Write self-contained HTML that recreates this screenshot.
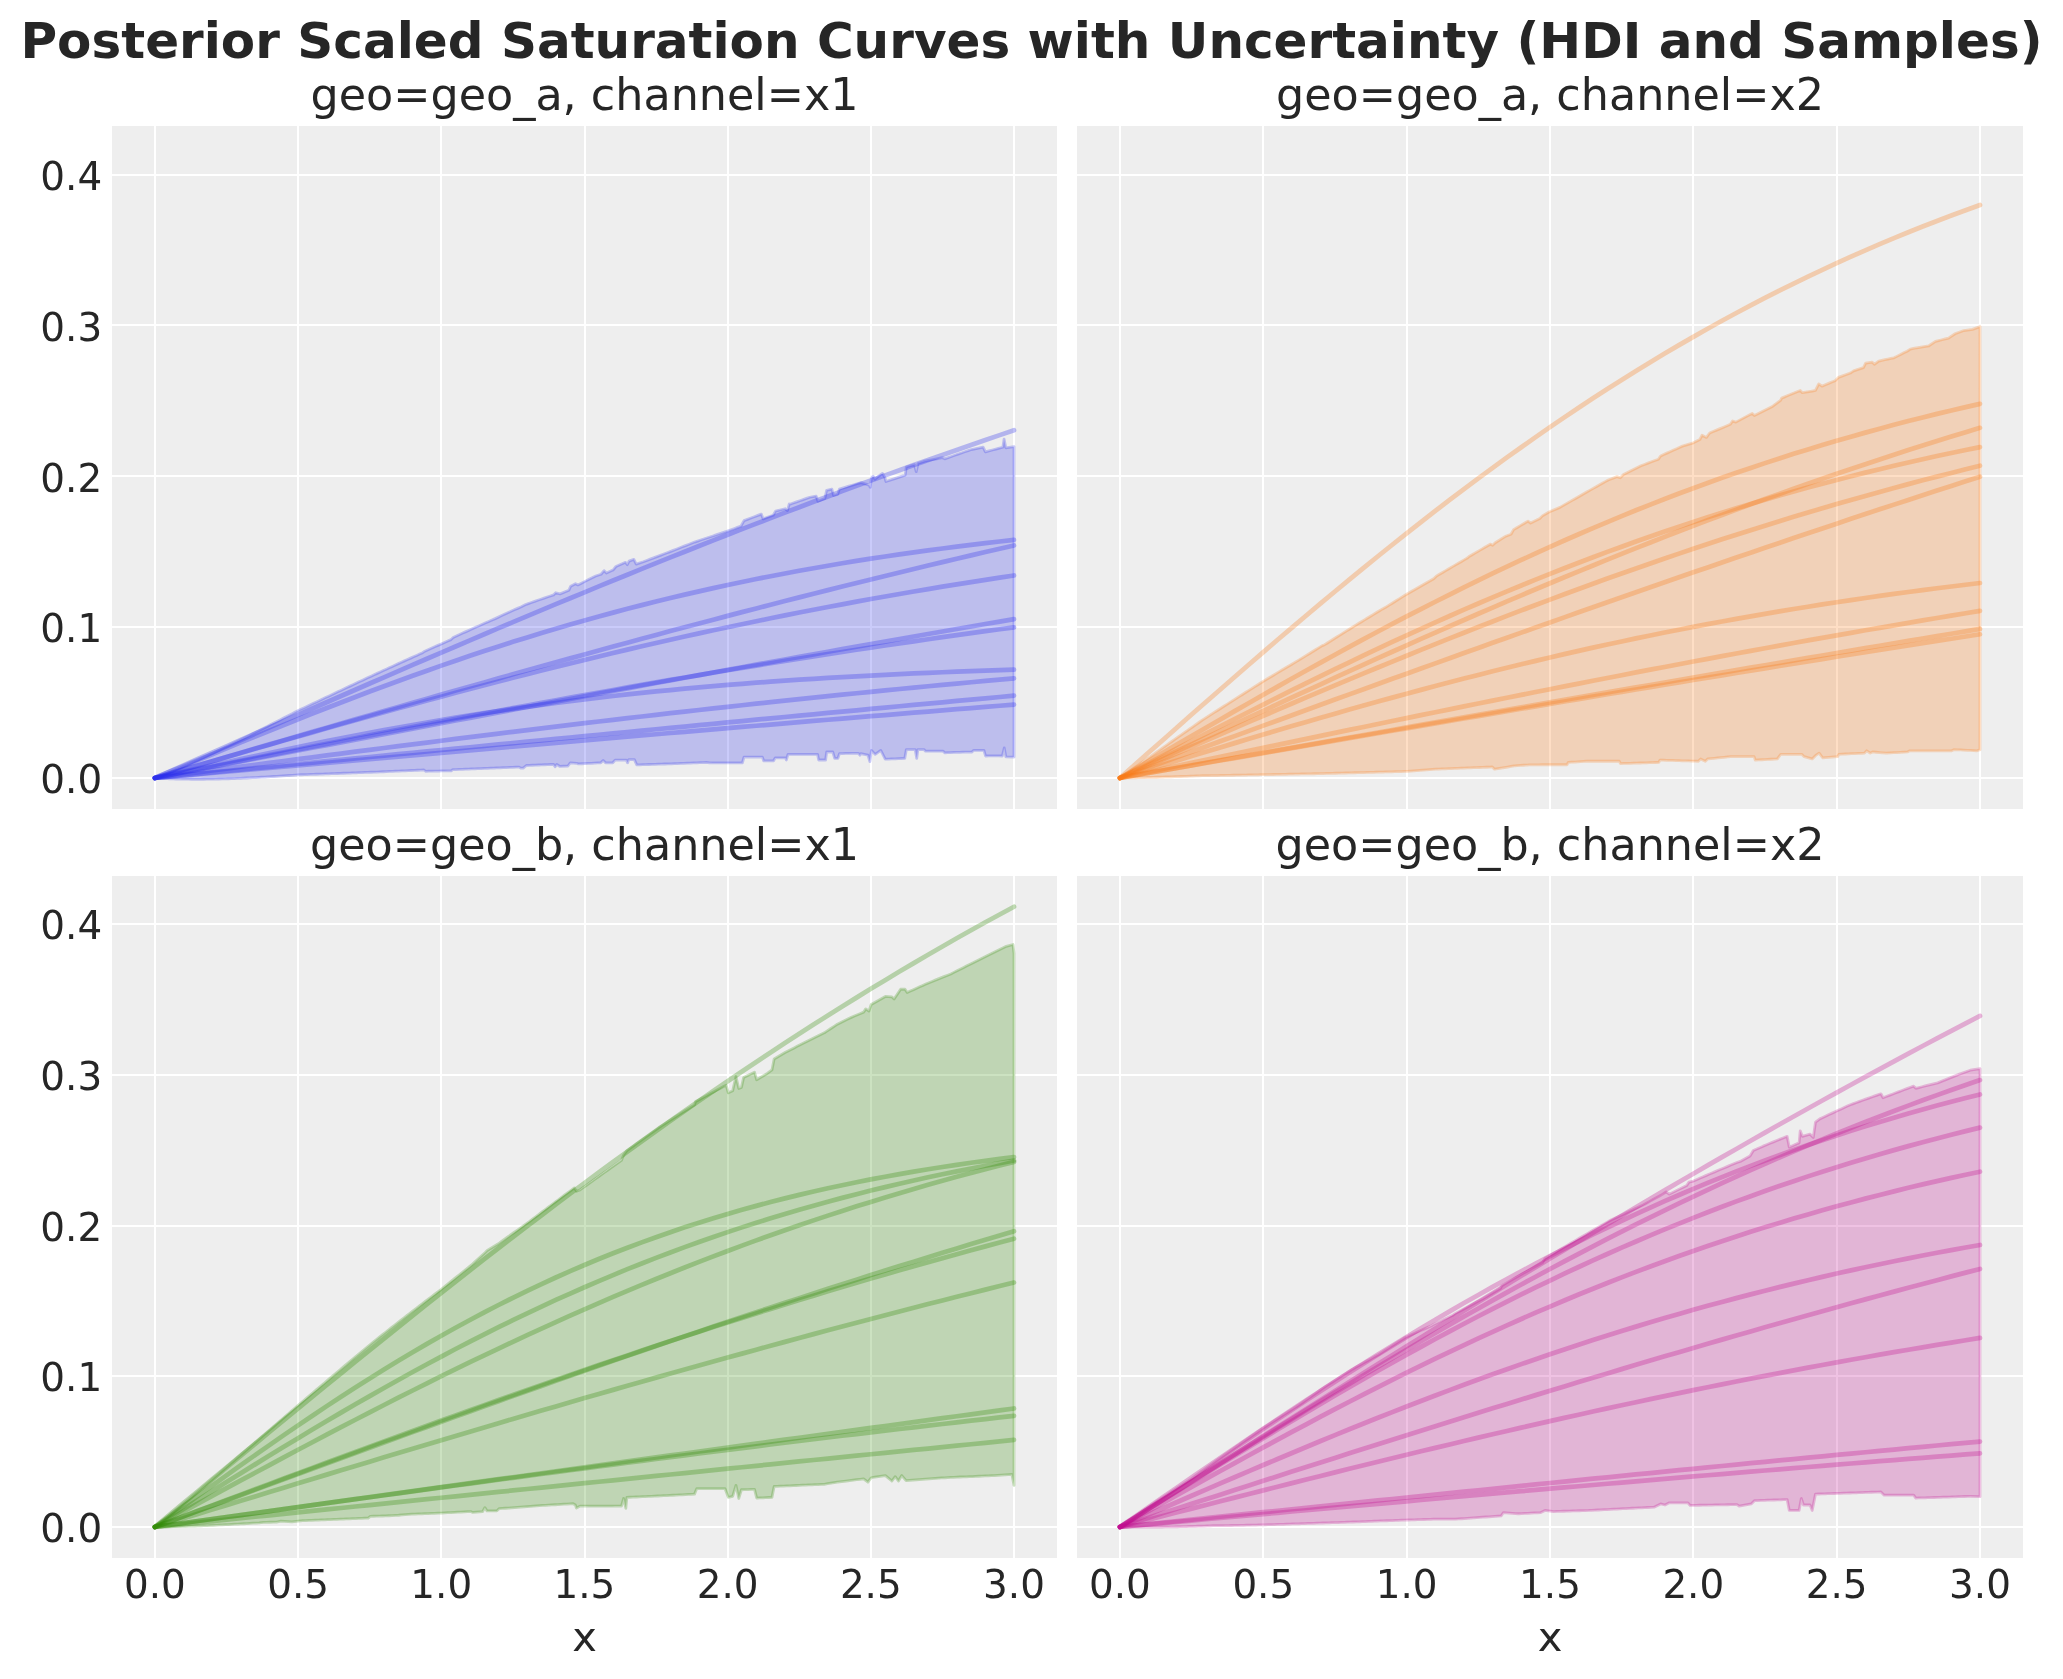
<!DOCTYPE html><html><head><meta charset="utf-8"><title>Posterior Scaled Saturation Curves</title>
<style>html,body{margin:0;padding:0;background:#fff;overflow:hidden}svg{display:block;will-change:transform}text{font-family:'DejaVu Sans', 'Liberation Sans', sans-serif;fill:#262626}</style></head><body>
<svg width="2063" height="1679" viewBox="0 0 2063 1679">
<rect width="2063" height="1679" fill="#ffffff"/>
<text x="1031.5" y="58.2" text-anchor="middle" style="font-size:50px;font-weight:bold">Posterior Scaled Saturation Curves with Uncertainty (HDI and Samples)</text>
<g>
<rect x="112" y="126" width="945" height="683" fill="#eeeeee"/>
<rect x="154" y="126" width="2" height="683" fill="#fff"/>
<rect x="297" y="126" width="2" height="683" fill="#fff"/>
<rect x="440" y="126" width="2" height="683" fill="#fff"/>
<rect x="584" y="126" width="2" height="683" fill="#fff"/>
<rect x="727" y="126" width="2" height="683" fill="#fff"/>
<rect x="870" y="126" width="2" height="683" fill="#fff"/>
<rect x="1013" y="126" width="2" height="683" fill="#fff"/>
<rect x="112" y="777" width="945" height="2" fill="#fff"/>
<rect x="112" y="626" width="945" height="2" fill="#fff"/>
<rect x="112" y="475" width="945" height="2" fill="#fff"/>
<rect x="112" y="324" width="945" height="2" fill="#fff"/>
<rect x="112" y="174" width="945" height="2" fill="#fff"/>
<path d="M154.9,778 L157.95,776.83 L161,775.64 L164.05,774.44 L167.11,773.22 L170.16,771.98 L173.21,770.72 L176.26,769.45 L179.31,768.17 L182.36,766.87 L185.42,765.55 L188.47,764.22 L191.52,762.88 L194.57,761.52 L197.62,760.15 L200.67,758.77 L203.73,757.38 L206.78,755.98 L209.83,754.57 L212.88,753.14 L215.93,751.71 L218.98,750.26 L222.04,748.81 L225.09,747.35 L228.14,745.88 L231.19,744.4 L234.24,742.91 L237.29,741.42 L240.35,739.92 L243.4,738.41 L246.45,736.9 L249.5,735.38 L252.55,733.86 L255.6,732.33 L258.66,730.79 L261.71,729.25 L264.76,727.71 L267.81,726.16 L270.86,724.61 L273.91,723.05 L276.97,721.49 L280.02,719.93 L283.07,718.36 L286.12,716.8 L289.17,715.23 L292.22,713.66 L295.28,712.08 L298.33,710.51 L301.36,709.07 L304.39,707.64 L307.43,706.2 L310.46,704.77 L313.49,703.33 L316.52,701.89 L319.56,700.45 L322.59,699.02 L325.62,697.58 L328.65,696.14 L331.69,694.71 L334.72,693.27 L337.75,691.84 L340.78,690.41 L343.82,688.98 L346.85,687.55 L349.88,686.12 L352.91,684.69 L355.95,683.27 L358.98,681.85 L362.01,680.43 L365.04,679.01 L368.08,677.6 L371.11,676.19 L374.14,674.78 L377.17,673.37 L380.21,671.97 L383.24,670.57 L386.27,669.18 L389.3,667.78 L392.34,666.39 L395.37,665.01 L398.4,663.62 L401.43,662.25 L404.47,660.87 L407.5,659.5 L410.53,658.13 L413.56,656.77 L416.6,655.41 L419.63,654.06 L422.66,652.7 L424.84,651.18 L428.11,649.71 L431.39,648.26 L434.66,646.8 L437.93,645.36 L441.2,643.91 L444.47,642.48 L447.75,641.04 L451.02,639.62 L453.2,637.44 L456.39,635.98 L459.58,634.53 L462.76,633.08 L465.95,631.64 L469.14,630.2 L472.33,628.77 L475.52,627.34 L478.7,625.92 L481.89,624.51 L485.08,623.1 L488.27,621.69 L491.46,620.29 L494.64,618.89 L497.92,617.38 L501.19,615.86 L504.46,614.36 L507.73,612.85 L511,611.36 L514.28,609.86 L517.55,608.38 L520.82,606.9 L525.18,604.72 L528.33,603.61 L531.48,602.5 L534.63,601.4 L537.78,600.31 L540.94,599.22 L544.09,598.13 L547.24,597.05 L550.39,595.97 L553.54,594.9 L555.72,592.72 L560,593.9 L568.93,590.32 L570.72,586.15 L575.48,583.77 L577.87,584.96 L581.44,583.17 L585.01,581.37 L588.59,579.59 L592.16,577.81 L595.73,576.03 L601.09,574.24 L604.07,570.67 L606.45,573.05 L613,570.07 L615.98,566.5 L625.51,562.33 L627.3,564.71 L629.08,561.14 L633.85,559.35 L636.23,564.12 L643.37,561.74 L646.78,560.45 L650.18,559.17 L653.58,557.89 L656.99,556.61 L660.39,555.34 L663.79,554.07 L667.2,552.8 L670.24,551.6 L673.28,550.41 L676.33,549.21 L679.37,548.02 L682.42,546.83 L685.46,545.64 L688.5,544.45 L691.55,543.27 L694.59,542.08 L697.65,541.06 L700.72,540.03 L703.78,539.01 L706.84,537.99 L709.9,536.97 L712.97,535.95 L716.03,534.94 L726.75,531.36 L730.32,530.02 L733.9,528.68 L737.47,527.34 L741.04,526 L744.02,520.65 L747.47,519.33 L750.93,518.02 L754.38,516.71 L757.84,515.4 L761.29,514.09 L763.08,518.86 L773.2,515.29 L775.58,511.12 L785.11,508.73 L787.49,510.52 L789.28,503.97 L790,504.23 L793.3,503.06 L796.59,501.89 L799.89,500.73 L803.18,499.57 L806.48,498.41 L809.78,497.25 L816.18,496.09 L817.92,501.32 L824.9,498.41 L826.65,490.27 L831.88,489.11 L833.63,495.51 L837.7,494.34 L839.44,489.11 L842.64,488.13 L845.84,487.15 L849.04,486.18 L852.24,485.22 L855.44,484.25 L858.64,483.29 L860.96,482.71 L869.11,485.04 L870.27,487.36 L871.43,478.06 L873.18,476.31 L874.92,479.22 L880.74,474.57 L882.49,473.4 L884.81,477.47 L885.98,481.55 L894.7,478.64 L905.17,475.15 L906.34,467 L914.48,464.68 L916.22,471.66 L917.97,463.51 L924.95,461.19 L928.44,460.47 L931.93,459.76 L935.42,459.06 L938.91,458.38 L942.4,457.7 L944.73,458.86 L948.07,457.66 L951.42,456.47 L954.76,455.28 L958.1,454.11 L961.45,452.96 L964.79,451.81 L968.14,450.68 L971.48,449.55 L983.12,447.23 L985.44,451.88 L988.93,450.92 L992.42,449.97 L995.91,449.04 L999.4,448.12 L1002.89,447.23 L1004.06,439.08 L1005.8,447.81 L1014.01,446.65 L1014.01,757.11 L1005.85,756.79 L1004.25,747.99 L1002.33,755.99 L998.97,755.96 L995.61,755.95 L992.25,755.95 L988.89,755.96 L985.53,755.99 L983.93,750.39 L973.53,750.39 L971.93,751.99 L968.91,752.05 L965.89,752.11 L962.87,752.19 L959.85,752.27 L956.83,752.36 L953.81,752.46 L950.78,752.56 L947.76,752.67 L944.74,752.79 L943.14,751.19 L939.62,751.18 L936.1,751.17 L932.58,751.17 L929.06,751.18 L925.55,751.19 L923.95,749.59 L917.87,749.59 L916.75,758.39 L915.15,749.59 L906.35,749.59 L904.75,758.39 L901.5,758.51 L898.25,758.64 L894.99,758.77 L891.74,758.91 L888.49,759.05 L885.24,759.19 L880.76,750.39 L875.16,754.39 L871.48,750.39 L869.88,761.59 L867.96,755.19 L860.76,753.59 L859.96,755.19 L858.36,753.27 L855.22,753.32 L852.07,753.37 L848.92,753.43 L845.78,753.48 L842.63,753.54 L839.49,753.59 L837.89,758.39 L834.69,758.39 L832.77,751.99 L826.69,751.99 L825.57,759.99 L818.69,759.99 L817.57,754.39 L814.28,754.39 L811,754.39 L807.71,754.4 L804.42,754.4 L801.13,754.4 L797.84,754.4 L794.55,754.4 L791.27,754.39 L787.98,754.39 L786.38,759.99 L785.58,757.91 L775.18,757.91 L773.58,760.79 L763.66,760.79 L762.38,757.11 L759.32,757.11 L756.25,757.12 L753.19,757.12 L750.12,757.12 L747.06,757.11 L743.99,757.11 L742.39,762.87 L739.11,762.88 L735.83,762.88 L732.55,762.88 L729.27,762.89 L725.99,762.89 L722.71,762.89 L719.44,762.88 L716.16,762.88 L712.88,762.88 L709.6,762.87 L706.32,762.47 L703.12,762.6 L699.92,762.72 L696.72,762.85 L693.52,762.97 L690.32,763.09 L687.13,763.21 L683.93,763.33 L680.73,763.45 L677.53,763.56 L674.33,763.68 L671.13,763.8 L667.93,763.91 L664.73,764.01 L661.53,764.11 L658.33,764.2 L655.13,764.3 L651.93,764.39 L648.89,764.49 L645.86,764.58 L642.82,764.68 L639.78,764.78 L636.74,764.87 L634.34,759.59 L628.74,759.59 L627.62,762.79 L626.34,760.07 L615.14,760.07 L612.74,762.79 L605.55,762.79 L603.15,760.39 L600.75,762.79 L597.55,762.95 L594.35,763.11 L591.15,763.27 L587.95,763.43 L584.75,763.59 L581.55,763.75 L578.35,763.91 L576.75,763.27 L570.35,762.79 L567.95,765.99 L559.96,766.47 L556.76,764.39 L555.16,766.79 L553.56,764.39 L550.54,764.51 L547.51,764.63 L544.49,764.75 L541.47,764.88 L538.45,765 L535.43,765.13 L532.41,765.25 L529.39,765.38 L526.36,765.51 L523.17,768.07 L520.77,768.07 L519.17,767.11 L515.97,767.23 L512.77,767.34 L509.57,767.46 L506.37,767.58 L503.17,767.7 L499.97,767.82 L496.77,767.94 L493.57,768.07 L490.43,768.18 L487.3,768.3 L484.16,768.41 L481.02,768.53 L477.88,768.65 L474.75,768.77 L471.61,768.89 L468.47,769.02 L465.33,769.15 L462.2,769.27 L459.06,769.4 L455.92,769.54 L452.78,769.67 L451.18,770.79 L447.98,770.84 L444.78,770.9 L441.59,770.96 L438.39,771.02 L435.19,771.08 L431.99,771.14 L428.79,771.2 L425.59,771.27 L423.99,769.99 L420.85,770.12 L417.71,770.25 L414.56,770.38 L411.42,770.51 L408.28,770.64 L405.14,770.78 L401.99,770.92 L398.85,771.06 L395.71,771.19 L392.57,771.34 L389.43,771.48 L386.28,771.62 L383.14,771.76 L380,771.91 L376.98,772.02 L373.95,772.13 L370.93,772.24 L367.9,772.35 L364.88,772.47 L361.85,772.58 L358.83,772.69 L355.8,772.81 L352.78,772.92 L349.75,773.04 L346.73,773.15 L343.7,773.26 L340.68,773.38 L337.65,773.49 L334.63,773.6 L331.6,773.71 L328.58,773.82 L325.55,773.93 L322.53,774.04 L319.5,774.15 L316.48,774.26 L313.45,774.36 L310.43,774.46 L307.4,774.57 L304.38,774.67 L301.35,774.76 L298.33,774.86 L295.28,775.07 L292.22,775.29 L289.17,775.5 L286.12,775.7 L283.07,775.91 L280.02,776.11 L276.97,776.3 L273.91,776.5 L270.86,776.68 L267.81,776.87 L264.76,777.05 L261.71,777.22 L258.66,777.39 L255.6,777.56 L252.55,777.71 L249.5,777.87 L246.45,778.01 L243.4,778.15 L240.35,778.29 L237.29,778.41 L234.24,778.53 L231.19,778.64 L228.14,778.75 L225.09,778.84 L222.04,778.93 L218.98,779.01 L215.93,779.08 L212.88,779.14 L209.83,779.19 L206.78,779.23 L203.73,779.25 L200.67,779.27 L197.62,779.28 L194.57,779.28 L191.52,779.26 L188.47,779.23 L185.42,779.19 L182.36,779.14 L179.31,779.07 L176.26,778.99 L173.21,778.89 L170.16,778.78 L167.11,778.66 L164.05,778.52 L161,778.36 L157.95,778.19 L154.9,778Z" fill="#2a2eec" fill-opacity="0.25" stroke="#2a2eec" stroke-opacity="0.25" stroke-width="2.78" stroke-linejoin="round"/>
<path d="M154.9,778 L169.22,771.66 L183.54,765.33 L197.86,759 L212.17,752.67 L226.49,746.34 L240.81,740.02 L255.13,733.7 L269.45,727.39 L283.77,721.09 L298.09,714.8 L312.4,708.52 L326.72,702.25 L341.04,695.99 L355.36,689.75 L369.68,683.52 L384,677.3 L398.31,671.1 L412.63,664.91 L426.95,658.75 L441.27,652.6 L455.59,646.47 L469.91,640.36 L484.23,634.27 L498.54,628.2 L512.86,622.16 L527.18,616.14 L541.5,610.14 L555.82,604.17 L570.14,598.23 L584.46,592.31 L598.77,586.42 L613.09,580.55 L627.41,574.72 L641.73,568.92 L656.05,563.14 L670.37,557.4 L684.68,551.69 L699,546.01 L713.32,540.36 L727.64,534.75 L741.96,529.17 L756.28,523.63 L770.6,518.12 L784.91,512.65 L799.23,507.21 L813.55,501.81 L827.87,496.45 L842.19,491.12 L856.51,485.83 L870.82,480.59 L885.14,475.38 L899.46,470.21 L913.78,465.07 L928.1,459.98 L942.42,454.93 L956.74,449.92 L971.05,444.96 L985.37,440.03 L999.69,435.14 L1014.01,430.3" fill="none" stroke="#2a2eec" stroke-opacity="0.3" stroke-width="4.72" stroke-linecap="round" stroke-linejoin="round"/>
<path d="M154.9,778 L169.22,772.04 L183.54,766.09 L197.86,760.14 L212.17,754.22 L226.49,748.31 L240.81,742.43 L255.13,736.59 L269.45,730.78 L283.77,725.01 L298.09,719.29 L312.4,713.63 L326.72,708.02 L341.04,702.47 L355.36,696.98 L369.68,691.57 L384,686.22 L398.31,680.96 L412.63,675.77 L426.95,670.66 L441.27,665.63 L455.59,660.7 L469.91,655.85 L484.23,651.1 L498.54,646.43 L512.86,641.86 L527.18,637.39 L541.5,633.01 L555.82,628.73 L570.14,624.55 L584.46,620.47 L598.77,616.49 L613.09,612.6 L627.41,608.81 L641.73,605.12 L656.05,601.53 L670.37,598.04 L684.68,594.64 L699,591.34 L713.32,588.13 L727.64,585.02 L741.96,582 L756.28,579.06 L770.6,576.22 L784.91,573.47 L799.23,570.8 L813.55,568.21 L827.87,565.71 L842.19,563.29 L856.51,560.95 L870.82,558.69 L885.14,556.5 L899.46,554.39 L913.78,552.35 L928.1,550.37 L942.42,548.47 L956.74,546.64 L971.05,544.86 L985.37,543.16 L999.69,541.51 L1014.01,539.92" fill="none" stroke="#2a2eec" stroke-opacity="0.3" stroke-width="4.72" stroke-linecap="round" stroke-linejoin="round"/>
<path d="M154.9,778 L169.22,773.79 L183.54,769.58 L197.86,765.38 L212.17,761.17 L226.49,756.97 L240.81,752.77 L255.13,748.58 L269.45,744.38 L283.77,740.2 L298.09,736.02 L312.4,731.84 L326.72,727.67 L341.04,723.51 L355.36,719.36 L369.68,715.21 L384,711.08 L398.31,706.95 L412.63,702.84 L426.95,698.73 L441.27,694.64 L455.59,690.55 L469.91,686.48 L484.23,682.43 L498.54,678.38 L512.86,674.35 L527.18,670.34 L541.5,666.34 L555.82,662.35 L570.14,658.38 L584.46,654.43 L598.77,650.49 L613.09,646.57 L627.41,642.67 L641.73,638.79 L656.05,634.92 L670.37,631.08 L684.68,627.25 L699,623.45 L713.32,619.66 L727.64,615.9 L741.96,612.15 L756.28,608.43 L770.6,604.73 L784.91,601.05 L799.23,597.39 L813.55,593.76 L827.87,590.15 L842.19,586.56 L856.51,583 L870.82,579.46 L885.14,575.94 L899.46,572.45 L913.78,568.99 L928.1,565.54 L942.42,562.13 L956.74,558.74 L971.05,555.37 L985.37,552.03 L999.69,548.72 L1014.01,545.43" fill="none" stroke="#2a2eec" stroke-opacity="0.3" stroke-width="4.72" stroke-linecap="round" stroke-linejoin="round"/>
<path d="M154.9,778 L169.22,773.82 L183.54,769.64 L197.86,765.47 L212.17,761.3 L226.49,757.14 L240.81,752.99 L255.13,748.85 L269.45,744.72 L283.77,740.6 L298.09,736.5 L312.4,732.42 L326.72,728.35 L341.04,724.3 L355.36,720.28 L369.68,716.28 L384,712.3 L398.31,708.35 L412.63,704.43 L426.95,700.53 L441.27,696.67 L455.59,692.83 L469.91,689.03 L484.23,685.27 L498.54,681.53 L512.86,677.83 L527.18,674.17 L541.5,670.55 L555.82,666.97 L570.14,663.42 L584.46,659.92 L598.77,656.45 L613.09,653.03 L627.41,649.65 L641.73,646.31 L656.05,643.02 L670.37,639.77 L684.68,636.56 L699,633.4 L713.32,630.29 L727.64,627.22 L741.96,624.19 L756.28,621.21 L770.6,618.28 L784.91,615.4 L799.23,612.56 L813.55,609.76 L827.87,607.02 L842.19,604.32 L856.51,601.66 L870.82,599.05 L885.14,596.49 L899.46,593.98 L913.78,591.5 L928.1,589.08 L942.42,586.7 L956.74,584.37 L971.05,582.07 L985.37,579.83 L999.69,577.63 L1014.01,575.47" fill="none" stroke="#2a2eec" stroke-opacity="0.3" stroke-width="4.72" stroke-linecap="round" stroke-linejoin="round"/>
<path d="M154.9,778 L169.22,775.25 L183.54,772.5 L197.86,769.75 L212.17,767 L226.49,764.26 L240.81,761.51 L255.13,758.76 L269.45,756.02 L283.77,753.28 L298.09,750.54 L312.4,747.8 L326.72,745.06 L341.04,742.32 L355.36,739.59 L369.68,736.86 L384,734.13 L398.31,731.4 L412.63,728.68 L426.95,725.96 L441.27,723.25 L455.59,720.53 L469.91,717.83 L484.23,715.12 L498.54,712.42 L512.86,709.72 L527.18,707.03 L541.5,704.34 L555.82,701.66 L570.14,698.98 L584.46,696.3 L598.77,693.64 L613.09,690.97 L627.41,688.31 L641.73,685.66 L656.05,683.01 L670.37,680.37 L684.68,677.74 L699,675.11 L713.32,672.49 L727.64,669.87 L741.96,667.26 L756.28,664.66 L770.6,662.06 L784.91,659.47 L799.23,656.89 L813.55,654.32 L827.87,651.75 L842.19,649.19 L856.51,646.64 L870.82,644.1 L885.14,641.56 L899.46,639.03 L913.78,636.51 L928.1,634 L942.42,631.5 L956.74,629 L971.05,626.52 L985.37,624.04 L999.69,621.57 L1014.01,619.11" fill="none" stroke="#2a2eec" stroke-opacity="0.3" stroke-width="4.72" stroke-linecap="round" stroke-linejoin="round"/>
<path d="M154.9,778 L169.22,775.14 L183.54,772.27 L197.86,769.41 L212.17,766.55 L226.49,763.7 L240.81,760.84 L255.13,757.99 L269.45,755.15 L283.77,752.31 L298.09,749.48 L312.4,746.65 L326.72,743.83 L341.04,741.02 L355.36,738.22 L369.68,735.43 L384,732.64 L398.31,729.87 L412.63,727.11 L426.95,724.36 L441.27,721.63 L455.59,718.9 L469.91,716.19 L484.23,713.5 L498.54,710.81 L512.86,708.15 L527.18,705.5 L541.5,702.86 L555.82,700.24 L570.14,697.64 L584.46,695.06 L598.77,692.49 L613.09,689.95 L627.41,687.42 L641.73,684.91 L656.05,682.42 L670.37,679.95 L684.68,677.5 L699,675.07 L713.32,672.66 L727.64,670.27 L741.96,667.91 L756.28,665.56 L770.6,663.24 L784.91,660.94 L799.23,658.67 L813.55,656.41 L827.87,654.18 L842.19,651.97 L856.51,649.79 L870.82,647.63 L885.14,645.49 L899.46,643.38 L913.78,641.29 L928.1,639.22 L942.42,637.18 L956.74,635.16 L971.05,633.16 L985.37,631.19 L999.69,629.25 L1014.01,627.33" fill="none" stroke="#2a2eec" stroke-opacity="0.3" stroke-width="4.72" stroke-linecap="round" stroke-linejoin="round"/>
<path d="M154.9,778 L169.22,774.82 L183.54,771.65 L197.86,768.49 L212.17,765.34 L226.49,762.21 L240.81,759.11 L255.13,756.03 L269.45,752.98 L283.77,749.97 L298.09,746.99 L312.4,744.06 L326.72,741.18 L341.04,738.34 L355.36,735.55 L369.68,732.82 L384,730.15 L398.31,727.53 L412.63,724.98 L426.95,722.49 L441.27,720.06 L455.59,717.69 L469.91,715.39 L484.23,713.16 L498.54,710.99 L512.86,708.89 L527.18,706.86 L541.5,704.89 L555.82,702.99 L570.14,701.15 L584.46,699.37 L598.77,697.66 L613.09,696.02 L627.41,694.43 L641.73,692.91 L656.05,691.44 L670.37,690.03 L684.68,688.68 L699,687.38 L713.32,686.14 L727.64,684.95 L741.96,683.81 L756.28,682.71 L770.6,681.67 L784.91,680.67 L799.23,679.71 L813.55,678.8 L827.87,677.93 L842.19,677.1 L856.51,676.3 L870.82,675.54 L885.14,674.82 L899.46,674.13 L913.78,673.48 L928.1,672.85 L942.42,672.26 L956.74,671.69 L971.05,671.15 L985.37,670.64 L999.69,670.15 L1014.01,669.68" fill="none" stroke="#2a2eec" stroke-opacity="0.3" stroke-width="4.72" stroke-linecap="round" stroke-linejoin="round"/>
<path d="M154.9,778 L169.22,776.11 L183.54,774.22 L197.86,772.33 L212.17,770.44 L226.49,768.55 L240.81,766.66 L255.13,764.78 L269.45,762.9 L283.77,761.03 L298.09,759.15 L312.4,757.29 L326.72,755.42 L341.04,753.57 L355.36,751.71 L369.68,749.87 L384,748.03 L398.31,746.2 L412.63,744.37 L426.95,742.56 L441.27,740.75 L455.59,738.95 L469.91,737.16 L484.23,735.38 L498.54,733.6 L512.86,731.84 L527.18,730.09 L541.5,728.35 L555.82,726.62 L570.14,724.9 L584.46,723.19 L598.77,721.49 L613.09,719.81 L627.41,718.14 L641.73,716.48 L656.05,714.83 L670.37,713.2 L684.68,711.58 L699,709.98 L713.32,708.38 L727.64,706.81 L741.96,705.24 L756.28,703.69 L770.6,702.16 L784.91,700.64 L799.23,699.13 L813.55,697.64 L827.87,696.17 L842.19,694.71 L856.51,693.26 L870.82,691.83 L885.14,690.42 L899.46,689.02 L913.78,687.64 L928.1,686.27 L942.42,684.92 L956.74,683.58 L971.05,682.26 L985.37,680.96 L999.69,679.67 L1014.01,678.4" fill="none" stroke="#2a2eec" stroke-opacity="0.3" stroke-width="4.72" stroke-linecap="round" stroke-linejoin="round"/>
<path d="M154.9,778 L169.22,776.6 L183.54,775.19 L197.86,773.79 L212.17,772.39 L226.49,770.99 L240.81,769.58 L255.13,768.18 L269.45,766.78 L283.77,765.38 L298.09,763.98 L312.4,762.58 L326.72,761.18 L341.04,759.78 L355.36,758.38 L369.68,756.98 L384,755.59 L398.31,754.19 L412.63,752.79 L426.95,751.4 L441.27,750.01 L455.59,748.62 L469.91,747.23 L484.23,745.84 L498.54,744.45 L512.86,743.06 L527.18,741.67 L541.5,740.29 L555.82,738.91 L570.14,737.53 L584.46,736.15 L598.77,734.77 L613.09,733.39 L627.41,732.02 L641.73,730.64 L656.05,729.27 L670.37,727.9 L684.68,726.53 L699,725.17 L713.32,723.8 L727.64,722.44 L741.96,721.08 L756.28,719.72 L770.6,718.37 L784.91,717.01 L799.23,715.66 L813.55,714.31 L827.87,712.97 L842.19,711.62 L856.51,710.28 L870.82,708.94 L885.14,707.61 L899.46,706.27 L913.78,704.94 L928.1,703.61 L942.42,702.29 L956.74,700.96 L971.05,699.64 L985.37,698.33 L999.69,697.01 L1014.01,695.7" fill="none" stroke="#2a2eec" stroke-opacity="0.3" stroke-width="4.72" stroke-linecap="round" stroke-linejoin="round"/>
<path d="M154.9,778 L169.22,776.74 L183.54,775.47 L197.86,774.21 L212.17,772.94 L226.49,771.68 L240.81,770.41 L255.13,769.15 L269.45,767.89 L283.77,766.62 L298.09,765.36 L312.4,764.1 L326.72,762.84 L341.04,761.58 L355.36,760.32 L369.68,759.07 L384,757.81 L398.31,756.55 L412.63,755.3 L426.95,754.05 L441.27,752.8 L455.59,751.55 L469.91,750.3 L484.23,749.05 L498.54,747.81 L512.86,746.56 L527.18,745.32 L541.5,744.08 L555.82,742.84 L570.14,741.61 L584.46,740.37 L598.77,739.14 L613.09,737.91 L627.41,736.68 L641.73,735.46 L656.05,734.23 L670.37,733.01 L684.68,731.8 L699,730.58 L713.32,729.37 L727.64,728.16 L741.96,726.95 L756.28,725.75 L770.6,724.54 L784.91,723.34 L799.23,722.15 L813.55,720.96 L827.87,719.77 L842.19,718.58 L856.51,717.39 L870.82,716.21 L885.14,715.04 L899.46,713.86 L913.78,712.69 L928.1,711.53 L942.42,710.36 L956.74,709.2 L971.05,708.05 L985.37,706.89 L999.69,705.74 L1014.01,704.6" fill="none" stroke="#2a2eec" stroke-opacity="0.3" stroke-width="4.72" stroke-linecap="round" stroke-linejoin="round"/>
<text x="584.5" y="109.7" text-anchor="middle" style="font-size:44.44px">geo=geo_a, channel=x1</text>
<text x="102.2" y="793" text-anchor="end" style="font-size:38.89px">0.0</text>
<text x="102.2" y="642.25" text-anchor="end" style="font-size:38.89px">0.1</text>
<text x="102.2" y="491.5" text-anchor="end" style="font-size:38.89px">0.2</text>
<text x="102.2" y="340.75" text-anchor="end" style="font-size:38.89px">0.3</text>
<text x="102.2" y="190" text-anchor="end" style="font-size:38.89px">0.4</text>
</g>
<g>
<rect x="1077" y="126" width="946" height="683" fill="#eeeeee"/>
<rect x="1119" y="126" width="2" height="683" fill="#fff"/>
<rect x="1262" y="126" width="2" height="683" fill="#fff"/>
<rect x="1406" y="126" width="2" height="683" fill="#fff"/>
<rect x="1549" y="126" width="2" height="683" fill="#fff"/>
<rect x="1692" y="126" width="2" height="683" fill="#fff"/>
<rect x="1836" y="126" width="2" height="683" fill="#fff"/>
<rect x="1979" y="126" width="2" height="683" fill="#fff"/>
<rect x="1077" y="777" width="946" height="2" fill="#fff"/>
<rect x="1077" y="626" width="946" height="2" fill="#fff"/>
<rect x="1077" y="475" width="946" height="2" fill="#fff"/>
<rect x="1077" y="324" width="946" height="2" fill="#fff"/>
<rect x="1077" y="174" width="946" height="2" fill="#fff"/>
<path d="M1119.95,778 L1123,775.85 L1126.05,773.71 L1129.09,771.56 L1132.14,769.41 L1135.19,767.26 L1138.24,765.12 L1141.29,762.97 L1144.34,760.82 L1147.38,758.67 L1150.43,756.52 L1153.48,754.38 L1156.53,752.23 L1159.58,750.08 L1162.62,747.94 L1165.67,745.79 L1168.72,743.65 L1171.77,741.5 L1174.82,739.36 L1177.87,737.21 L1180.91,735.07 L1183.96,732.93 L1187.01,730.79 L1190.06,728.65 L1193.11,726.52 L1196.16,724.38 L1199.2,722.24 L1202.25,720.11 L1205.34,718.13 L1208.42,716.15 L1211.51,714.17 L1214.6,712.2 L1217.68,710.22 L1220.77,708.25 L1223.86,706.28 L1226.94,704.31 L1230.03,702.34 L1233.12,700.38 L1236.2,698.41 L1239.29,696.45 L1242.38,694.49 L1245.46,692.54 L1248.55,690.58 L1251.64,688.63 L1254.72,686.68 L1257.81,684.74 L1260.9,682.79 L1263.98,680.85 L1266.98,679.04 L1269.99,677.24 L1272.99,675.44 L1275.99,673.65 L1278.99,671.85 L1281.99,670.06 L1284.99,668.27 L1287.99,666.48 L1291,664.7 L1294,662.92 L1297,661.14 L1300,659.36 L1303.18,657.39 L1306.37,655.42 L1309.55,653.45 L1312.73,651.48 L1315.91,649.52 L1319.1,647.56 L1322.28,645.6 L1324.24,644.95 L1327.37,642.97 L1330.51,640.99 L1333.64,639.02 L1336.77,637.05 L1339.9,635.09 L1343.03,633.12 L1346.16,631.16 L1349.29,629.21 L1352.42,627.26 L1355.43,625.41 L1358.45,623.56 L1361.46,621.72 L1364.48,619.88 L1367.49,618.04 L1370.5,616.21 L1373.52,614.38 L1376.53,612.55 L1379.55,610.73 L1382.56,608.91 L1385.18,607.6 L1388.68,605.4 L1392.17,603.21 L1395.67,601.03 L1399.16,598.84 L1402.65,596.67 L1406.15,594.5 L1409.21,592.73 L1412.26,590.97 L1415.32,589.22 L1418.38,587.47 L1421.44,585.72 L1424.5,583.98 L1427.55,582.24 L1430.61,580.5 L1433.67,578.77 L1436.29,576.15 L1439.44,574.3 L1442.58,572.45 L1445.73,570.6 L1448.87,568.76 L1452.02,566.92 L1455.16,565.09 L1458.31,563.26 L1461.45,561.44 L1464.6,559.62 L1467.74,557.8 L1469.05,556.49 L1472.14,554.7 L1475.23,552.91 L1478.32,551.13 L1481.41,549.35 L1484.5,547.58 L1487.59,545.81 L1490.68,544.04 L1492.64,545.35 L1495.26,542.73 L1505.75,536.18 L1510.99,534.21 L1513.61,529.63 L1517.21,527.49 L1520.82,525.36 L1524.42,523.23 L1528.02,521.11 L1530.65,523.07 L1539.82,518.49 L1542.44,515.87 L1548.99,511.94 L1560,507.35 L1563.02,505.6 L1566.03,503.86 L1569.05,502.13 L1572.06,500.4 L1575.08,498.67 L1578.1,496.94 L1581.11,495.22 L1584.13,493.51 L1587.14,491.8 L1590.16,490.09 L1593.18,488.38 L1596.19,486.68 L1599.21,484.99 L1602.23,483.3 L1605.24,481.61 L1608.26,479.93 L1616.98,476.66 L1620.25,477.75 L1623.53,474.47 L1627.02,472.72 L1630.51,470.97 L1634,469.22 L1637.49,467.48 L1640.98,465.75 L1644.47,464.43 L1647.96,463.11 L1651.45,461.81 L1654.94,460.5 L1658.43,459.21 L1660.61,455.93 L1663.72,454.52 L1666.84,453.11 L1669.96,451.7 L1673.07,450.3 L1676.19,448.9 L1679.31,447.51 L1682.42,446.12 L1693.33,442.85 L1699.87,439.57 L1702.05,435.21 L1706.42,437.39 L1709.69,433.03 L1713.14,431.56 L1716.59,430.1 L1720.05,428.64 L1723.5,427.19 L1726.96,425.74 L1730.41,424.3 L1732.59,421.03 L1735.86,422.12 L1739.13,420.37 L1742.41,418.62 L1745.68,416.87 L1748.95,415.13 L1752.22,413.4 L1754.4,415.58 L1757.89,413.82 L1761.38,412.07 L1764.87,410.33 L1768.36,408.59 L1771.85,406.85 L1780.58,400.31 L1781.67,398.13 L1784.76,396.85 L1787.85,395.57 L1790.94,394.29 L1794.03,393.02 L1797.12,391.76 L1800.21,390.49 L1802.39,392.68 L1805.66,392.12 L1808.94,391.57 L1812.21,391.03 L1815.48,390.49 L1818.75,383.95 L1822.02,386.13 L1825.3,384.76 L1828.57,383.39 L1831.84,382.03 L1835.11,380.68 L1838.38,377.41 L1850.38,373.04 L1853.65,370.86 L1863.47,367.59 L1865.65,363.23 L1872.19,362.14 L1874.37,364.32 L1878.74,361.05 L1881.79,360.38 L1884.84,359.72 L1887.9,359.07 L1890.95,358.42 L1894.01,357.78 L1897.28,356.13 L1900.55,354.49 L1903.82,352.86 L1907.09,351.23 L1910.37,349.05 L1913.46,348.49 L1916.55,347.94 L1919.64,347.39 L1922.73,346.85 L1925.82,346.31 L1928.91,345.78 L1935.45,341.42 L1938.72,340.59 L1941.99,339.77 L1945.27,338.95 L1948.54,338.14 L1955.08,333.78 L1963.81,330.51 L1972.53,329.42 L1979.99,326.58 L1979.99,749.64 L1977.11,750.8 L1973.79,750.63 L1970.47,750.46 L1967.16,750.29 L1963.84,750.13 L1960.52,749.96 L1957.2,749.8 L1953.88,749.64 L1951.56,750.8 L1948.34,750.8 L1945.12,750.79 L1941.91,750.79 L1938.69,750.79 L1935.47,750.78 L1932.26,750.78 L1929.04,750.78 L1925.82,750.79 L1922.61,750.79 L1919.39,750.79 L1916.17,750.79 L1912.96,750.8 L1909.74,750.8 L1907.42,751.96 L1903.93,752.15 L1900.45,752.35 L1896.96,752.54 L1893.48,752.73 L1889.99,752.93 L1886.51,753.12 L1883.02,752.83 L1879.54,752.54 L1876.05,752.25 L1872.57,751.96 L1870.25,753.12 L1866.76,750.8 L1864.44,753.12 L1861.24,753.27 L1858.05,753.41 L1854.85,753.56 L1851.66,753.7 L1848.47,753.85 L1845.27,753.99 L1842.08,754.14 L1838.88,754.28 L1837.72,756.61 L1834.7,756.84 L1831.68,757.07 L1828.66,757.31 L1825.64,757.54 L1822.62,757.77 L1819.14,753.12 L1815.65,755.45 L1812.17,758.93 L1804.03,756.61 L1801.71,754.28 L1798.23,754.29 L1794.74,754.29 L1791.26,754.29 L1787.77,754.29 L1784.29,754.29 L1780.8,754.28 L1777.32,758.93 L1774.17,759.1 L1771.01,759.26 L1767.86,759.43 L1764.71,759.6 L1761.55,759.76 L1758.4,759.93 L1755.25,760.09 L1754.09,756.61 L1750.77,756.61 L1747.45,756.61 L1744.13,756.61 L1740.81,756.61 L1737.49,756.61 L1734.17,756.61 L1730.85,756.61 L1727.54,756.94 L1724.22,757.27 L1720.9,757.6 L1717.58,757.94 L1714.26,758.27 L1710.94,758.6 L1707.62,758.93 L1705.3,761.25 L1700.65,758.93 L1698.33,761.25 L1695.14,761.16 L1691.94,761.06 L1688.75,760.97 L1685.55,760.87 L1682.36,760.77 L1679.16,760.68 L1675.97,760.58 L1672.77,760.48 L1669.58,760.39 L1666.39,760.29 L1663.19,760.19 L1660,760.09 L1658.84,762.42 L1655.64,762.51 L1652.45,762.61 L1649.25,762.71 L1646.06,762.8 L1642.86,762.9 L1639.67,763 L1636.48,763.1 L1633.28,763.19 L1630.09,763.29 L1626.89,763.38 L1623.7,763.48 L1620.5,763.58 L1619.34,761.25 L1616.09,761.25 L1612.84,761.25 L1609.58,761.25 L1606.33,761.25 L1603.08,761.25 L1599.83,761.25 L1596.57,761.25 L1593.32,761.25 L1590.07,761.25 L1586.82,761.25 L1583.72,761.45 L1580.62,761.64 L1577.52,761.84 L1574.43,762.03 L1571.33,762.22 L1568.23,762.42 L1567.07,764.74 L1563.92,764.74 L1560.76,764.74 L1557.61,764.74 L1554.46,764.74 L1551.31,764.74 L1548.15,764.74 L1545,764.74 L1541.89,764.76 L1538.78,764.77 L1535.67,764.79 L1532.56,764.81 L1529.44,764.83 L1526.39,765.05 L1523.34,765.26 L1520.28,765.48 L1517.23,765.7 L1514.18,765.92 L1510.9,766.46 L1507.63,767.01 L1504.36,767.55 L1501.09,768.1 L1497.82,768.64 L1494.54,769.19 L1492.36,767.01 L1489.21,767.13 L1486.06,767.25 L1482.91,767.37 L1479.76,767.49 L1476.61,767.61 L1473.46,767.73 L1470.31,767.85 L1467.16,767.97 L1464.01,768.1 L1460.86,768.22 L1457.7,768.34 L1454.55,768.46 L1451.4,768.58 L1448.25,768.7 L1445.1,768.82 L1441.95,768.95 L1438.8,769.07 L1435.65,769.19 L1432.5,769.43 L1429.35,769.67 L1426.2,769.92 L1423.05,770.16 L1419.9,770.4 L1416.75,770.64 L1413.59,770.89 L1410.44,771.13 L1407.29,771.37 L1404.18,771.45 L1401.07,771.54 L1397.96,771.62 L1394.85,771.7 L1391.74,771.78 L1388.63,771.87 L1385.52,771.95 L1382.41,772.03 L1379.3,772.11 L1376.19,772.19 L1373.08,772.27 L1369.97,772.36 L1366.86,772.44 L1363.75,772.52 L1360.64,772.6 L1357.53,772.68 L1354.42,772.76 L1351.31,772.84 L1348.2,772.92 L1345.09,773 L1341.98,773.08 L1338.86,773.16 L1335.75,773.24 L1332.64,773.32 L1329.53,773.4 L1326.42,773.48 L1323.31,773.55 L1320.19,773.62 L1317.07,773.68 L1313.95,773.74 L1310.82,773.8 L1307.7,773.86 L1304.58,773.92 L1301.45,773.98 L1298.33,774.04 L1295.21,774.1 L1292.09,774.16 L1288.96,774.22 L1285.84,774.27 L1282.72,774.33 L1279.6,774.38 L1276.47,774.44 L1273.35,774.49 L1270.23,774.54 L1267.1,774.59 L1263.98,774.64 L1260.9,774.71 L1257.81,774.78 L1254.72,774.84 L1251.64,774.91 L1248.55,774.97 L1245.46,775.03 L1242.38,775.09 L1239.29,775.15 L1236.2,775.21 L1233.12,775.26 L1230.03,775.32 L1226.94,775.37 L1223.86,775.42 L1220.77,775.47 L1217.68,775.52 L1214.6,775.57 L1211.51,775.61 L1208.42,775.65 L1205.34,775.69 L1202.25,775.73 L1199.2,775.85 L1196.16,775.96 L1193.11,776.08 L1190.06,776.18 L1187.01,776.29 L1183.96,776.4 L1180.91,776.5 L1177.87,776.6 L1174.82,776.7 L1171.77,776.8 L1168.72,776.89 L1165.67,776.98 L1162.62,777.07 L1159.58,777.15 L1156.53,777.24 L1153.48,777.32 L1150.43,777.4 L1147.38,777.47 L1144.34,777.54 L1141.29,777.61 L1138.24,777.68 L1135.19,777.74 L1132.14,777.8 L1129.09,777.85 L1126.05,777.91 L1123,777.95 L1119.95,778Z" fill="#fa7c17" fill-opacity="0.25" stroke="#fa7c17" stroke-opacity="0.25" stroke-width="2.78" stroke-linejoin="round"/>
<path d="M1119.95,778 L1134.28,765.29 L1148.62,752.59 L1162.95,739.9 L1177.29,727.24 L1191.62,714.6 L1205.95,702.01 L1220.29,689.45 L1234.62,676.95 L1248.96,664.51 L1263.29,652.13 L1277.62,639.83 L1291.96,627.6 L1306.29,615.46 L1320.63,603.41 L1334.96,591.45 L1349.29,579.6 L1363.63,567.86 L1377.96,556.23 L1392.3,544.72 L1406.63,533.34 L1420.96,522.08 L1435.3,510.95 L1449.63,499.97 L1463.97,489.12 L1478.3,478.42 L1492.63,467.87 L1506.97,457.46 L1521.3,447.21 L1535.64,437.12 L1549.97,427.18 L1564.3,417.41 L1578.64,407.79 L1592.97,398.34 L1607.31,389.06 L1621.64,379.94 L1635.97,370.99 L1650.31,362.21 L1664.64,353.59 L1678.98,345.14 L1693.31,336.86 L1707.64,328.75 L1721.98,320.8 L1736.31,313.02 L1750.65,305.41 L1764.98,297.96 L1779.31,290.68 L1793.65,283.56 L1807.98,276.6 L1822.32,269.8 L1836.65,263.16 L1850.98,256.68 L1865.32,250.35 L1879.65,244.17 L1893.99,238.15 L1908.32,232.27 L1922.65,226.54 L1936.99,220.96 L1951.32,215.51 L1965.66,210.21 L1979.99,205.05" fill="none" stroke="#fa7c17" stroke-opacity="0.3" stroke-width="4.72" stroke-linecap="round" stroke-linejoin="round"/>
<path d="M1119.95,778 L1134.28,769.59 L1148.62,761.19 L1162.95,752.79 L1177.29,744.41 L1191.62,736.05 L1205.95,727.72 L1220.29,719.42 L1234.62,711.16 L1248.96,702.93 L1263.29,694.75 L1277.62,686.63 L1291.96,678.55 L1306.29,670.54 L1320.63,662.59 L1334.96,654.7 L1349.29,646.89 L1363.63,639.16 L1377.96,631.5 L1392.3,623.93 L1406.63,616.44 L1420.96,609.04 L1435.3,601.73 L1449.63,594.52 L1463.97,587.41 L1478.3,580.39 L1492.63,573.48 L1506.97,566.67 L1521.3,559.97 L1535.64,553.37 L1549.97,546.89 L1564.3,540.51 L1578.64,534.25 L1592.97,528.09 L1607.31,522.05 L1621.64,516.13 L1635.97,510.31 L1650.31,504.62 L1664.64,499.03 L1678.98,493.56 L1693.31,488.21 L1707.64,482.96 L1721.98,477.83 L1736.31,472.82 L1750.65,467.91 L1764.98,463.12 L1779.31,458.44 L1793.65,453.87 L1807.98,449.4 L1822.32,445.05 L1836.65,440.8 L1850.98,436.65 L1865.32,432.61 L1879.65,428.67 L1893.99,424.83 L1908.32,421.09 L1922.65,417.45 L1936.99,413.91 L1951.32,410.45 L1965.66,407.1 L1979.99,403.83" fill="none" stroke="#fa7c17" stroke-opacity="0.3" stroke-width="4.72" stroke-linecap="round" stroke-linejoin="round"/>
<path d="M1119.95,778 L1134.28,771.25 L1148.62,764.5 L1162.95,757.75 L1177.29,751.01 L1191.62,744.27 L1205.95,737.55 L1220.29,730.83 L1234.62,724.13 L1248.96,717.44 L1263.29,710.77 L1277.62,704.12 L1291.96,697.48 L1306.29,690.87 L1320.63,684.28 L1334.96,677.71 L1349.29,671.18 L1363.63,664.67 L1377.96,658.18 L1392.3,651.73 L1406.63,645.32 L1420.96,638.93 L1435.3,632.58 L1449.63,626.27 L1463.97,620 L1478.3,613.76 L1492.63,607.57 L1506.97,601.42 L1521.3,595.31 L1535.64,589.25 L1549.97,583.23 L1564.3,577.26 L1578.64,571.34 L1592.97,565.46 L1607.31,559.64 L1621.64,553.86 L1635.97,548.14 L1650.31,542.47 L1664.64,536.85 L1678.98,531.29 L1693.31,525.78 L1707.64,520.33 L1721.98,514.93 L1736.31,509.59 L1750.65,504.31 L1764.98,499.08 L1779.31,493.91 L1793.65,488.8 L1807.98,483.75 L1822.32,478.76 L1836.65,473.83 L1850.98,468.96 L1865.32,464.14 L1879.65,459.39 L1893.99,454.7 L1908.32,450.06 L1922.65,445.49 L1936.99,440.98 L1951.32,436.53 L1965.66,432.14 L1979.99,427.81" fill="none" stroke="#fa7c17" stroke-opacity="0.3" stroke-width="4.72" stroke-linecap="round" stroke-linejoin="round"/>
<path d="M1119.95,778 L1134.28,770.58 L1148.62,763.16 L1162.95,755.75 L1177.29,748.36 L1191.62,740.98 L1205.95,733.62 L1220.29,726.3 L1234.62,719 L1248.96,711.74 L1263.29,704.52 L1277.62,697.35 L1291.96,690.22 L1306.29,683.14 L1320.63,676.12 L1334.96,669.16 L1349.29,662.26 L1363.63,655.43 L1377.96,648.67 L1392.3,641.98 L1406.63,635.36 L1420.96,628.83 L1435.3,622.37 L1449.63,616 L1463.97,609.71 L1478.3,603.51 L1492.63,597.4 L1506.97,591.38 L1521.3,585.45 L1535.64,579.62 L1549.97,573.88 L1564.3,568.24 L1578.64,562.7 L1592.97,557.26 L1607.31,551.91 L1621.64,546.67 L1635.97,541.52 L1650.31,536.48 L1664.64,531.54 L1678.98,526.69 L1693.31,521.95 L1707.64,517.31 L1721.98,512.76 L1736.31,508.32 L1750.65,503.97 L1764.98,499.72 L1779.31,495.57 L1793.65,491.52 L1807.98,487.56 L1822.32,483.7 L1836.65,479.93 L1850.98,476.25 L1865.32,472.66 L1879.65,469.17 L1893.99,465.76 L1908.32,462.44 L1922.65,459.21 L1936.99,456.06 L1951.32,452.99 L1965.66,450.01 L1979.99,447.1" fill="none" stroke="#fa7c17" stroke-opacity="0.3" stroke-width="4.72" stroke-linecap="round" stroke-linejoin="round"/>
<path d="M1119.95,778 L1134.28,771.74 L1148.62,765.49 L1162.95,759.24 L1177.29,753 L1191.62,746.76 L1205.95,740.54 L1220.29,734.33 L1234.62,728.13 L1248.96,721.95 L1263.29,715.79 L1277.62,709.66 L1291.96,703.54 L1306.29,697.45 L1320.63,691.39 L1334.96,685.36 L1349.29,679.36 L1363.63,673.39 L1377.96,667.46 L1392.3,661.57 L1406.63,655.71 L1420.96,649.89 L1435.3,644.12 L1449.63,638.38 L1463.97,632.7 L1478.3,627.06 L1492.63,621.46 L1506.97,615.92 L1521.3,610.42 L1535.64,604.98 L1549.97,599.59 L1564.3,594.25 L1578.64,588.97 L1592.97,583.75 L1607.31,578.58 L1621.64,573.46 L1635.97,568.41 L1650.31,563.42 L1664.64,558.48 L1678.98,553.61 L1693.31,548.79 L1707.64,544.04 L1721.98,539.35 L1736.31,534.72 L1750.65,530.16 L1764.98,525.66 L1779.31,521.22 L1793.65,516.85 L1807.98,512.54 L1822.32,508.29 L1836.65,504.1 L1850.98,499.98 L1865.32,495.93 L1879.65,491.94 L1893.99,488.01 L1908.32,484.14 L1922.65,480.34 L1936.99,476.6 L1951.32,472.93 L1965.66,469.31 L1979.99,465.76" fill="none" stroke="#fa7c17" stroke-opacity="0.3" stroke-width="4.72" stroke-linecap="round" stroke-linejoin="round"/>
<path d="M1119.95,778 L1134.28,772.76 L1148.62,767.52 L1162.95,762.28 L1177.29,757.04 L1191.62,751.8 L1205.95,746.56 L1220.29,741.33 L1234.62,736.1 L1248.96,730.87 L1263.29,725.64 L1277.62,720.42 L1291.96,715.21 L1306.29,709.99 L1320.63,704.79 L1334.96,699.59 L1349.29,694.39 L1363.63,689.2 L1377.96,684.02 L1392.3,678.84 L1406.63,673.67 L1420.96,668.51 L1435.3,663.35 L1449.63,658.21 L1463.97,653.07 L1478.3,647.94 L1492.63,642.82 L1506.97,637.72 L1521.3,632.62 L1535.64,627.53 L1549.97,622.45 L1564.3,617.38 L1578.64,612.33 L1592.97,607.28 L1607.31,602.25 L1621.64,597.23 L1635.97,592.23 L1650.31,587.23 L1664.64,582.25 L1678.98,577.29 L1693.31,572.33 L1707.64,567.4 L1721.98,562.47 L1736.31,557.56 L1750.65,552.67 L1764.98,547.79 L1779.31,542.93 L1793.65,538.08 L1807.98,533.25 L1822.32,528.44 L1836.65,523.64 L1850.98,518.86 L1865.32,514.1 L1879.65,509.35 L1893.99,504.63 L1908.32,499.92 L1922.65,495.23 L1936.99,490.56 L1951.32,485.9 L1965.66,481.27 L1979.99,476.65" fill="none" stroke="#fa7c17" stroke-opacity="0.3" stroke-width="4.72" stroke-linecap="round" stroke-linejoin="round"/>
<path d="M1119.95,778 L1134.28,773.61 L1148.62,769.23 L1162.95,764.85 L1177.29,760.47 L1191.62,756.11 L1205.95,751.77 L1220.29,747.43 L1234.62,743.12 L1248.96,738.83 L1263.29,734.56 L1277.62,730.32 L1291.96,726.11 L1306.29,721.93 L1320.63,717.78 L1334.96,713.67 L1349.29,709.6 L1363.63,705.56 L1377.96,701.57 L1392.3,697.62 L1406.63,693.72 L1420.96,689.86 L1435.3,686.05 L1449.63,682.29 L1463.97,678.58 L1478.3,674.93 L1492.63,671.32 L1506.97,667.77 L1521.3,664.28 L1535.64,660.84 L1549.97,657.46 L1564.3,654.14 L1578.64,650.88 L1592.97,647.67 L1607.31,644.53 L1621.64,641.44 L1635.97,638.41 L1650.31,635.45 L1664.64,632.54 L1678.98,629.69 L1693.31,626.9 L1707.64,624.18 L1721.98,621.51 L1736.31,618.9 L1750.65,616.35 L1764.98,613.85 L1779.31,611.42 L1793.65,609.04 L1807.98,606.72 L1822.32,604.45 L1836.65,602.24 L1850.98,600.09 L1865.32,597.99 L1879.65,595.94 L1893.99,593.95 L1908.32,592 L1922.65,590.11 L1936.99,588.27 L1951.32,586.48 L1965.66,584.73 L1979.99,583.03" fill="none" stroke="#fa7c17" stroke-opacity="0.3" stroke-width="4.72" stroke-linecap="round" stroke-linejoin="round"/>
<path d="M1119.95,778 L1134.28,774.98 L1148.62,771.95 L1162.95,768.93 L1177.29,765.91 L1191.62,762.89 L1205.95,759.88 L1220.29,756.86 L1234.62,753.85 L1248.96,750.84 L1263.29,747.84 L1277.62,744.84 L1291.96,741.84 L1306.29,738.86 L1320.63,735.87 L1334.96,732.89 L1349.29,729.92 L1363.63,726.96 L1377.96,724 L1392.3,721.05 L1406.63,718.11 L1420.96,715.18 L1435.3,712.25 L1449.63,709.34 L1463.97,706.43 L1478.3,703.54 L1492.63,700.65 L1506.97,697.77 L1521.3,694.91 L1535.64,692.06 L1549.97,689.22 L1564.3,686.39 L1578.64,683.57 L1592.97,680.77 L1607.31,677.98 L1621.64,675.2 L1635.97,672.44 L1650.31,669.69 L1664.64,666.95 L1678.98,664.23 L1693.31,661.53 L1707.64,658.84 L1721.98,656.16 L1736.31,653.5 L1750.65,650.86 L1764.98,648.23 L1779.31,645.62 L1793.65,643.02 L1807.98,640.44 L1822.32,637.88 L1836.65,635.34 L1850.98,632.81 L1865.32,630.3 L1879.65,627.81 L1893.99,625.33 L1908.32,622.88 L1922.65,620.44 L1936.99,618.02 L1951.32,615.62 L1965.66,613.23 L1979.99,610.87" fill="none" stroke="#fa7c17" stroke-opacity="0.3" stroke-width="4.72" stroke-linecap="round" stroke-linejoin="round"/>
<path d="M1119.95,778 L1134.28,775.47 L1148.62,772.93 L1162.95,770.4 L1177.29,767.87 L1191.62,765.33 L1205.95,762.8 L1220.29,760.27 L1234.62,757.74 L1248.96,755.21 L1263.29,752.68 L1277.62,750.15 L1291.96,747.62 L1306.29,745.09 L1320.63,742.57 L1334.96,740.04 L1349.29,737.52 L1363.63,734.99 L1377.96,732.47 L1392.3,729.95 L1406.63,727.44 L1420.96,724.92 L1435.3,722.41 L1449.63,719.89 L1463.97,717.38 L1478.3,714.87 L1492.63,712.37 L1506.97,709.86 L1521.3,707.36 L1535.64,704.86 L1549.97,702.36 L1564.3,699.87 L1578.64,697.38 L1592.97,694.89 L1607.31,692.4 L1621.64,689.92 L1635.97,687.43 L1650.31,684.96 L1664.64,682.48 L1678.98,680.01 L1693.31,677.54 L1707.64,675.07 L1721.98,672.61 L1736.31,670.15 L1750.65,667.7 L1764.98,665.25 L1779.31,662.8 L1793.65,660.35 L1807.98,657.91 L1822.32,655.47 L1836.65,653.04 L1850.98,650.61 L1865.32,648.19 L1879.65,645.77 L1893.99,643.35 L1908.32,640.94 L1922.65,638.53 L1936.99,636.13 L1951.32,633.73 L1965.66,631.33 L1979.99,628.94" fill="none" stroke="#fa7c17" stroke-opacity="0.3" stroke-width="4.72" stroke-linecap="round" stroke-linejoin="round"/>
<path d="M1119.95,778 L1134.28,775.5 L1148.62,773.01 L1162.95,770.51 L1177.29,768.02 L1191.62,765.53 L1205.95,763.03 L1220.29,760.54 L1234.62,758.05 L1248.96,755.56 L1263.29,753.08 L1277.62,750.59 L1291.96,748.11 L1306.29,745.63 L1320.63,743.15 L1334.96,740.67 L1349.29,738.19 L1363.63,735.72 L1377.96,733.25 L1392.3,730.79 L1406.63,728.33 L1420.96,725.87 L1435.3,723.41 L1449.63,720.96 L1463.97,718.51 L1478.3,716.07 L1492.63,713.63 L1506.97,711.2 L1521.3,708.77 L1535.64,706.34 L1549.97,703.92 L1564.3,701.5 L1578.64,699.09 L1592.97,696.69 L1607.31,694.29 L1621.64,691.9 L1635.97,689.51 L1650.31,687.13 L1664.64,684.75 L1678.98,682.38 L1693.31,680.02 L1707.64,677.66 L1721.98,675.31 L1736.31,672.97 L1750.65,670.63 L1764.98,668.3 L1779.31,665.98 L1793.65,663.66 L1807.98,661.36 L1822.32,659.06 L1836.65,656.76 L1850.98,654.48 L1865.32,652.2 L1879.65,649.93 L1893.99,647.67 L1908.32,645.42 L1922.65,643.18 L1936.99,640.94 L1951.32,638.72 L1965.66,636.5 L1979.99,634.29" fill="none" stroke="#fa7c17" stroke-opacity="0.3" stroke-width="4.72" stroke-linecap="round" stroke-linejoin="round"/>
<text x="1550" y="109.7" text-anchor="middle" style="font-size:44.44px">geo=geo_a, channel=x2</text>
</g>
<g>
<rect x="112" y="876" width="945" height="682" fill="#eeeeee"/>
<rect x="154" y="876" width="2" height="682" fill="#fff"/>
<rect x="297" y="876" width="2" height="682" fill="#fff"/>
<rect x="440" y="876" width="2" height="682" fill="#fff"/>
<rect x="584" y="876" width="2" height="682" fill="#fff"/>
<rect x="727" y="876" width="2" height="682" fill="#fff"/>
<rect x="870" y="876" width="2" height="682" fill="#fff"/>
<rect x="1013" y="876" width="2" height="682" fill="#fff"/>
<rect x="112" y="1526" width="945" height="2" fill="#fff"/>
<rect x="112" y="1375" width="945" height="2" fill="#fff"/>
<rect x="112" y="1225" width="945" height="2" fill="#fff"/>
<rect x="112" y="1074" width="945" height="2" fill="#fff"/>
<rect x="112" y="923" width="945" height="2" fill="#fff"/>
<path d="M154.9,1527 L157.94,1524.54 L160.98,1522.08 L164.02,1519.6 L167.07,1517.12 L170.11,1514.62 L173.15,1512.12 L176.19,1509.6 L179.23,1507.08 L182.27,1504.55 L185.31,1502.02 L188.35,1499.47 L191.4,1496.92 L194.44,1494.36 L197.48,1491.8 L200.52,1489.23 L203.56,1486.66 L206.6,1484.08 L209.64,1481.49 L212.68,1478.9 L215.73,1476.31 L218.77,1473.71 L221.81,1471.11 L224.85,1468.51 L227.89,1465.9 L230.93,1463.29 L233.97,1460.68 L237.02,1458.06 L240.06,1455.44 L243.1,1452.83 L246.14,1450.21 L249.18,1447.58 L252.22,1444.96 L255.26,1442.34 L258.3,1439.72 L261.35,1437.09 L264.39,1434.47 L267.43,1431.84 L270.47,1429.22 L273.51,1426.6 L276.55,1423.97 L279.59,1421.35 L282.63,1418.73 L285.68,1416.11 L288.72,1413.5 L291.76,1410.88 L294.8,1408.27 L297.84,1405.66 L300.86,1403.07 L303.88,1400.49 L306.9,1397.9 L309.92,1395.32 L312.94,1392.75 L315.96,1390.17 L318.98,1387.6 L322,1385.04 L325.02,1382.47 L328.03,1379.91 L331.05,1377.36 L334.07,1374.8 L337.09,1372.25 L340.11,1369.71 L343.13,1367.17 L346.15,1364.63 L349.17,1362.1 L352.19,1359.57 L355.21,1357.05 L358.23,1354.53 L361.25,1352.02 L364.27,1349.51 L367.29,1347 L370.31,1344.5 L373.33,1342.01 L376.4,1339.56 L379.48,1337.12 L382.55,1334.69 L385.63,1332.26 L388.7,1329.83 L391.78,1327.41 L394.86,1325 L397.93,1322.59 L401.01,1320.19 L404.08,1317.8 L407.16,1315.41 L410.23,1313.02 L413.31,1310.65 L416.39,1308.28 L419.46,1305.91 L422.54,1303.55 L425.61,1301.2 L428.69,1298.85 L431.77,1296.51 L434.84,1294.18 L437.92,1291.85 L440.99,1289.53 L444.05,1287.04 L447.11,1284.56 L450.17,1282.09 L453.23,1279.63 L456.29,1277.17 L459.35,1274.71 L462.41,1272.27 L465.47,1269.83 L468.53,1267.39 L471.59,1264.96 L474.94,1261.88 L478.29,1258.81 L481.64,1255.74 L484.99,1252.68 L487.22,1250.45 L498.39,1243.75 L501.51,1241.48 L504.64,1239.23 L507.77,1236.98 L510.89,1234.74 L514.02,1232.5 L517.15,1230.27 L520.27,1228.05 L523.4,1225.83 L526.53,1223.62 L529.65,1221.41 L532.84,1218.98 L536.03,1216.55 L539.22,1214.13 L542.41,1211.71 L545.6,1209.31 L548.79,1206.9 L551.99,1204.51 L555.18,1202.12 L558.37,1199.74 L561.56,1197.36 L564.75,1194.99 L567.94,1192.63 L571.13,1190.27 L574.32,1187.92 L576.55,1191.27 L580,1189.93 L583.05,1187.72 L586.11,1185.52 L589.16,1183.33 L592.22,1181.14 L595.27,1178.95 L598.32,1176.77 L601.38,1174.6 L604.43,1172.43 L607.48,1170.27 L610.54,1168.11 L621.44,1160.48 L623.63,1155.03 L626.9,1150.66 L630.06,1148.35 L633.22,1146.04 L636.39,1143.74 L639.55,1141.44 L642.71,1139.15 L645.87,1136.86 L649.04,1134.58 L652.2,1132.3 L655.36,1130.03 L658.53,1127.76 L661.8,1125.65 L665.07,1123.55 L668.34,1121.45 L671.61,1119.36 L674.89,1117.27 L678.16,1115.19 L681.43,1113.11 L684.7,1111.04 L687.97,1108.97 L691.25,1106.91 L694.52,1104.86 L695.61,1101.59 L698.66,1099.93 L701.72,1098.28 L704.77,1096.63 L707.82,1094.98 L710.88,1093.35 L713.93,1091.71 L716.98,1090.08 L720.04,1088.46 L723.09,1086.84 L726.15,1085.23 L728.33,1092.86 L732.69,1090.68 L735.96,1076.5 L738.8,1088.5 L741.42,1087.41 L743.6,1077.59 L754.5,1072.14 L756.68,1079.77 L767.59,1073.23 L771.95,1069.96 L774.13,1059.05 L785.04,1052.51 L788.06,1050.96 L791.08,1049.42 L794.1,1047.89 L797.12,1046.36 L800.14,1044.84 L803.16,1043.32 L806.18,1041.81 L809.2,1040.31 L812.22,1038.81 L815.24,1037.31 L818.26,1035.83 L821.28,1034.35 L824.3,1032.87 L827.58,1030.68 L830.85,1028.5 L834.12,1026.32 L837.39,1024.15 L848.3,1018.7 L851.35,1017.37 L854.41,1016.05 L857.46,1014.75 L860.51,1013.44 L863.57,1012.15 L865.75,1008.88 L869.02,1011.06 L871.2,1004.52 L874.75,1002.48 L878.29,1000.46 L881.84,998.45 L885.38,996.45 L891.92,996.88 L894.11,999.06 L900.65,989.25 L905.01,989.25 L907.19,992.52 L910.31,991.08 L913.43,989.65 L916.54,988.24 L919.66,986.84 L922.77,985.45 L925.89,984.07 L929.01,982.7 L932.12,981.42 L935.24,980.14 L938.35,978.88 L941.47,977.63 L944.59,976.4 L947.7,975.18 L950.82,973.98 L953.94,972.37 L957.05,970.78 L960.17,969.21 L963.28,967.65 L966.4,966.11 L969.52,964.58 L972.63,963.07 L976.12,961.28 L979.61,959.51 L983.1,957.77 L986.59,956.05 L990.08,954.35 L993.14,952.78 L996.19,951.23 L999.24,949.71 L1002.3,948.2 L1005.35,946.71 L1012.99,944.53 L1014.01,953.26 L1014.01,1485.38 L1011.9,1474.47 L1008.41,1474.64 L1004.92,1474.83 L1001.43,1475.05 L997.94,1475.3 L994.44,1475.56 L991.33,1475.67 L988.21,1475.79 L985.1,1475.93 L981.98,1476.08 L978.86,1476.26 L975.75,1476.45 L972.63,1476.66 L969.52,1476.72 L966.4,1476.8 L963.28,1476.9 L960.17,1477.01 L957.05,1477.14 L953.94,1477.28 L950.82,1477.43 L947.7,1477.59 L944.59,1477.77 L941.47,1477.96 L938.35,1478.16 L935.24,1478.38 L932.12,1478.6 L929.01,1478.84 L925.73,1479.05 L922.46,1479.28 L919.19,1479.52 L915.92,1479.77 L912.65,1480.03 L909.37,1480.3 L906.1,1480.58 L901.74,1475.56 L898.47,1481.02 L895.2,1476.66 L891.92,1481.02 L885.38,1475.56 L881.84,1476.1 L878.29,1476.64 L874.75,1477.19 L871.2,1477.75 L867.93,1482.11 L863.57,1478.84 L860.08,1479.26 L856.59,1479.69 L853.1,1480.13 L849.61,1480.57 L846.12,1481.02 L837.39,1482.11 L834.12,1482.65 L830.85,1483.19 L827.58,1483.74 L824.3,1484.29 L821.17,1484.42 L818.03,1484.55 L814.9,1484.68 L811.76,1484.81 L808.63,1484.95 L805.49,1485.08 L802.36,1485.22 L799.22,1485.36 L796.08,1485.49 L792.95,1485.63 L789.81,1485.77 L786.68,1485.91 L783.54,1486.05 L780.41,1486.19 L777.27,1486.33 L774.13,1486.47 L771.95,1497.38 L768.9,1497.51 L765.85,1497.64 L762.79,1497.77 L759.74,1497.9 L756.68,1498.03 L754.5,1489.31 L751.23,1489.42 L747.96,1489.53 L744.69,1489.64 L741.42,1489.74 L738.8,1498.47 L735.96,1485.38 L732.69,1496.29 L728.33,1497.38 L725.06,1488.65 L721.9,1488.66 L718.75,1488.66 L715.6,1488.67 L712.45,1488.67 L709.3,1488.67 L706.15,1488.67 L703,1488.66 L699.85,1488.66 L696.7,1488.65 L694.52,1494.11 L691.44,1494.27 L688.37,1494.44 L685.3,1494.61 L682.22,1494.77 L679.15,1494.93 L676.08,1495.09 L673,1495.25 L669.93,1495.41 L666.85,1495.56 L663.78,1495.71 L660.71,1495.86 L657.63,1496.01 L654.56,1496.15 L651.49,1496.3 L648.41,1496.44 L645.34,1496.58 L642.27,1496.72 L639.19,1496.85 L636.12,1496.99 L633.04,1497.12 L629.97,1497.25 L626.9,1497.38 L625.81,1508.28 L623.63,1498.47 L621.44,1506.1 L618.26,1506.11 L615.07,1506.12 L611.88,1506.13 L608.69,1506.14 L605.5,1506.14 L602.32,1506.14 L599.13,1506.14 L595.94,1506.14 L592.75,1506.14 L589.56,1506.13 L586.38,1506.12 L583.19,1506.11 L580,1506.1 L576.44,1508.06 L575.35,1505 L573.17,1503.69 L570.12,1503.87 L567.06,1504.05 L564.01,1504.23 L560.95,1504.41 L557.9,1504.58 L554.85,1504.76 L551.79,1504.93 L548.74,1505.1 L545.69,1505.27 L542.63,1505.44 L539.52,1505.68 L536.4,1505.92 L533.28,1506.15 L530.17,1506.39 L527.05,1506.63 L523.94,1506.86 L520.82,1507.1 L517.7,1507.33 L514.59,1507.56 L511.47,1507.79 L508.35,1508.02 L505.24,1508.25 L502.12,1508.48 L499.01,1508.71 L496.83,1510.89 L487.01,1510.89 L484.83,1507.62 L482.65,1511.55 L472.83,1512.42 L470.65,1511.55 L467.38,1511.72 L464.11,1511.89 L460.83,1512.06 L457.56,1512.23 L454.29,1512.39 L451.02,1512.56 L447.75,1512.73 L444.47,1512.9 L441.2,1513.07 L437.93,1513.19 L434.66,1513.31 L431.39,1513.43 L428.11,1513.56 L424.84,1513.68 L421.57,1513.8 L418.3,1513.92 L415.03,1514.04 L411.75,1514.16 L408.48,1514.44 L405.21,1514.71 L401.94,1514.98 L398.67,1515.25 L395.4,1515.42 L392.12,1515.58 L388.85,1515.74 L385.58,1515.91 L382.53,1516 L379.47,1516.08 L376.42,1516.17 L373.36,1516.26 L370.31,1516.35 L368.13,1518.09 L365.01,1518.21 L361.9,1518.34 L358.78,1518.46 L355.66,1518.58 L352.55,1518.71 L349.43,1518.83 L346.32,1518.95 L343.2,1519.08 L340.08,1519.2 L336.97,1519.33 L333.85,1519.45 L330.74,1519.58 L327.62,1519.71 L324.5,1519.83 L321.39,1519.96 L318.27,1520.08 L315.15,1520.21 L312.04,1520.33 L308.92,1520.46 L305.81,1520.58 L302.69,1520.71 L291.78,1521.8 L280.88,1521.14 L276.51,1522.02 L273.24,1522.13 L269.97,1522.24 L266.7,1522.35 L263.43,1522.45 L259.06,1522.89 L256,1523.06 L252.94,1523.23 L249.87,1523.4 L246.81,1523.57 L243.75,1523.74 L240.68,1523.9 L237.62,1524.06 L234.56,1524.22 L231.49,1524.38 L228.43,1524.53 L225.36,1524.68 L222.3,1524.83 L219.24,1524.98 L216.17,1525.12 L213.11,1525.26 L210.05,1525.39 L206.98,1525.52 L203.92,1525.65 L200.85,1525.77 L197.79,1525.89 L194.73,1526.01 L191.66,1526.12 L188.6,1526.22 L185.54,1526.32 L182.47,1526.42 L179.41,1526.51 L176.35,1526.59 L173.28,1526.67 L170.22,1526.74 L167.15,1526.81 L164.09,1526.86 L161.03,1526.92 L157.96,1526.96 L154.9,1527Z" fill="#328c06" fill-opacity="0.25" stroke="#328c06" stroke-opacity="0.25" stroke-width="2.78" stroke-linejoin="round"/>
<path d="M154.9,1527 L169.22,1515.09 L183.54,1503.18 L197.86,1491.28 L212.17,1479.39 L226.49,1467.52 L240.81,1455.65 L255.13,1443.81 L269.45,1431.99 L283.77,1420.19 L298.09,1408.42 L312.4,1396.68 L326.72,1384.97 L341.04,1373.3 L355.36,1361.67 L369.68,1350.08 L384,1338.54 L398.31,1327.04 L412.63,1315.6 L426.95,1304.2 L441.27,1292.87 L455.59,1281.59 L469.91,1270.37 L484.23,1259.21 L498.54,1248.12 L512.86,1237.1 L527.18,1226.15 L541.5,1215.27 L555.82,1204.46 L570.14,1193.73 L584.46,1183.08 L598.77,1172.51 L613.09,1162.01 L627.41,1151.61 L641.73,1141.29 L656.05,1131.05 L670.37,1120.91 L684.68,1110.85 L699,1100.89 L713.32,1091.01 L727.64,1081.24 L741.96,1071.55 L756.28,1061.97 L770.6,1052.48 L784.91,1043.09 L799.23,1033.79 L813.55,1024.6 L827.87,1015.51 L842.19,1006.52 L856.51,997.63 L870.82,988.85 L885.14,980.17 L899.46,971.59 L913.78,963.11 L928.1,954.74 L942.42,946.48 L956.74,938.31 L971.05,930.26 L985.37,922.31 L999.69,914.46 L1014.01,906.72" fill="none" stroke="#328c06" stroke-opacity="0.3" stroke-width="4.72" stroke-linecap="round" stroke-linejoin="round"/>
<path d="M154.9,1527 L169.22,1516.62 L183.54,1506.25 L197.86,1495.91 L212.17,1485.6 L226.49,1475.36 L240.81,1465.18 L255.13,1455.07 L269.45,1445.06 L283.77,1435.15 L298.09,1425.36 L312.4,1415.69 L326.72,1406.15 L341.04,1396.76 L355.36,1387.53 L369.68,1378.45 L384,1369.54 L398.31,1360.81 L412.63,1352.25 L426.95,1343.89 L441.27,1335.71 L455.59,1327.73 L469.91,1319.95 L484.23,1312.37 L498.54,1304.99 L512.86,1297.81 L527.18,1290.84 L541.5,1284.07 L555.82,1277.51 L570.14,1271.15 L584.46,1264.99 L598.77,1259.04 L613.09,1253.28 L627.41,1247.71 L641.73,1242.34 L656.05,1237.16 L670.37,1232.16 L684.68,1227.34 L699,1222.71 L713.32,1218.25 L727.64,1213.96 L741.96,1209.83 L756.28,1205.87 L770.6,1202.06 L784.91,1198.41 L799.23,1194.9 L813.55,1191.54 L827.87,1188.32 L842.19,1185.23 L856.51,1182.27 L870.82,1179.44 L885.14,1176.73 L899.46,1174.14 L913.78,1171.66 L928.1,1169.29 L942.42,1167.02 L956.74,1164.85 L971.05,1162.78 L985.37,1160.81 L999.69,1158.92 L1014.01,1157.12" fill="none" stroke="#328c06" stroke-opacity="0.3" stroke-width="4.72" stroke-linecap="round" stroke-linejoin="round"/>
<path d="M154.9,1527 L169.22,1517.99 L183.54,1508.99 L197.86,1500 L212.17,1491.04 L226.49,1482.11 L240.81,1473.22 L255.13,1464.37 L269.45,1455.58 L283.77,1446.84 L298.09,1438.18 L312.4,1429.59 L326.72,1421.08 L341.04,1412.65 L355.36,1404.32 L369.68,1396.09 L384,1387.96 L398.31,1379.94 L412.63,1372.03 L426.95,1364.24 L441.27,1356.57 L455.59,1349.03 L469.91,1341.62 L484.23,1334.33 L498.54,1327.19 L512.86,1320.17 L527.18,1313.3 L541.5,1306.57 L555.82,1299.98 L570.14,1293.53 L584.46,1287.23 L598.77,1281.07 L613.09,1275.06 L627.41,1269.19 L641.73,1263.46 L656.05,1257.88 L670.37,1252.44 L684.68,1247.15 L699,1242 L713.32,1236.98 L727.64,1232.11 L741.96,1227.37 L756.28,1222.77 L770.6,1218.3 L784.91,1213.96 L799.23,1209.75 L813.55,1205.67 L827.87,1201.72 L842.19,1197.88 L856.51,1194.17 L870.82,1190.57 L885.14,1187.09 L899.46,1183.72 L913.78,1180.46 L928.1,1177.31 L942.42,1174.27 L956.74,1171.32 L971.05,1168.48 L985.37,1165.73 L999.69,1163.08 L1014.01,1160.52" fill="none" stroke="#328c06" stroke-opacity="0.3" stroke-width="4.72" stroke-linecap="round" stroke-linejoin="round"/>
<path d="M154.9,1527 L169.22,1519.22 L183.54,1511.44 L197.86,1503.67 L212.17,1495.9 L226.49,1488.16 L240.81,1480.43 L255.13,1472.73 L269.45,1465.05 L283.77,1457.41 L298.09,1449.79 L312.4,1442.22 L326.72,1434.68 L341.04,1427.19 L355.36,1419.74 L369.68,1412.35 L384,1405.01 L398.31,1397.72 L412.63,1390.5 L426.95,1383.33 L441.27,1376.23 L455.59,1369.2 L469.91,1362.24 L484.23,1355.35 L498.54,1348.54 L512.86,1341.8 L527.18,1335.14 L541.5,1328.56 L555.82,1322.06 L570.14,1315.65 L584.46,1309.32 L598.77,1303.07 L613.09,1296.92 L627.41,1290.85 L641.73,1284.88 L656.05,1278.99 L670.37,1273.2 L684.68,1267.5 L699,1261.89 L713.32,1256.37 L727.64,1250.95 L741.96,1245.62 L756.28,1240.39 L770.6,1235.25 L784.91,1230.2 L799.23,1225.25 L813.55,1220.39 L827.87,1215.62 L842.19,1210.95 L856.51,1206.37 L870.82,1201.88 L885.14,1197.48 L899.46,1193.18 L913.78,1188.96 L928.1,1184.83 L942.42,1180.79 L956.74,1176.84 L971.05,1172.98 L985.37,1169.2 L999.69,1165.5 L1014.01,1161.89" fill="none" stroke="#328c06" stroke-opacity="0.3" stroke-width="4.72" stroke-linecap="round" stroke-linejoin="round"/>
<path d="M154.9,1527 L169.22,1521.69 L183.54,1516.39 L197.86,1511.08 L212.17,1505.78 L226.49,1500.48 L240.81,1495.19 L255.13,1489.89 L269.45,1484.61 L283.77,1479.33 L298.09,1474.05 L312.4,1468.78 L326.72,1463.52 L341.04,1458.27 L355.36,1453.02 L369.68,1447.79 L384,1442.56 L398.31,1437.35 L412.63,1432.15 L426.95,1426.96 L441.27,1421.78 L455.59,1416.61 L469.91,1411.46 L484.23,1406.33 L498.54,1401.2 L512.86,1396.1 L527.18,1391.01 L541.5,1385.94 L555.82,1380.88 L570.14,1375.85 L584.46,1370.83 L598.77,1365.83 L613.09,1360.85 L627.41,1355.89 L641.73,1350.95 L656.05,1346.03 L670.37,1341.13 L684.68,1336.26 L699,1331.41 L713.32,1326.58 L727.64,1321.77 L741.96,1316.99 L756.28,1312.24 L770.6,1307.51 L784.91,1302.8 L799.23,1298.12 L813.55,1293.46 L827.87,1288.84 L842.19,1284.23 L856.51,1279.66 L870.82,1275.11 L885.14,1270.59 L899.46,1266.1 L913.78,1261.64 L928.1,1257.21 L942.42,1252.8 L956.74,1248.43 L971.05,1244.08 L985.37,1239.77 L999.69,1235.48 L1014.01,1231.22" fill="none" stroke="#328c06" stroke-opacity="0.3" stroke-width="4.72" stroke-linecap="round" stroke-linejoin="round"/>
<path d="M154.9,1527 L169.22,1521.6 L183.54,1516.21 L197.86,1510.81 L212.17,1505.42 L226.49,1500.03 L240.81,1494.65 L255.13,1489.28 L269.45,1483.91 L283.77,1478.56 L298.09,1473.21 L312.4,1467.87 L326.72,1462.55 L341.04,1457.24 L355.36,1451.94 L369.68,1446.66 L384,1441.4 L398.31,1436.16 L412.63,1430.93 L426.95,1425.72 L441.27,1420.53 L455.59,1415.37 L469.91,1410.23 L484.23,1405.11 L498.54,1400.01 L512.86,1394.94 L527.18,1389.9 L541.5,1384.88 L555.82,1379.89 L570.14,1374.93 L584.46,1370 L598.77,1365.1 L613.09,1360.23 L627.41,1355.39 L641.73,1350.59 L656.05,1345.82 L670.37,1341.08 L684.68,1336.37 L699,1331.7 L713.32,1327.07 L727.64,1322.47 L741.96,1317.91 L756.28,1313.39 L770.6,1308.9 L784.91,1304.45 L799.23,1300.04 L813.55,1295.67 L827.87,1291.34 L842.19,1287.05 L856.51,1282.8 L870.82,1278.59 L885.14,1274.42 L899.46,1270.29 L913.78,1266.2 L928.1,1262.15 L942.42,1258.15 L956.74,1254.18 L971.05,1250.26 L985.37,1246.38 L999.69,1242.55 L1014.01,1238.75" fill="none" stroke="#328c06" stroke-opacity="0.3" stroke-width="4.72" stroke-linecap="round" stroke-linejoin="round"/>
<path d="M154.9,1527 L169.22,1522.62 L183.54,1518.25 L197.86,1513.87 L212.17,1509.5 L226.49,1505.13 L240.81,1500.76 L255.13,1496.39 L269.45,1492.03 L283.77,1487.67 L298.09,1483.32 L312.4,1478.97 L326.72,1474.63 L341.04,1470.3 L355.36,1465.97 L369.68,1461.65 L384,1457.34 L398.31,1453.03 L412.63,1448.74 L426.95,1444.46 L441.27,1440.18 L455.59,1435.92 L469.91,1431.67 L484.23,1427.42 L498.54,1423.2 L512.86,1418.98 L527.18,1414.78 L541.5,1410.59 L555.82,1406.41 L570.14,1402.25 L584.46,1398.1 L598.77,1393.97 L613.09,1389.86 L627.41,1385.76 L641.73,1381.68 L656.05,1377.61 L670.37,1373.56 L684.68,1369.53 L699,1365.52 L713.32,1361.53 L727.64,1357.55 L741.96,1353.6 L756.28,1349.66 L770.6,1345.74 L784.91,1341.85 L799.23,1337.97 L813.55,1334.12 L827.87,1330.29 L842.19,1326.48 L856.51,1322.69 L870.82,1318.92 L885.14,1315.18 L899.46,1311.45 L913.78,1307.76 L928.1,1304.08 L942.42,1300.43 L956.74,1296.8 L971.05,1293.2 L985.37,1289.61 L999.69,1286.06 L1014.01,1282.53" fill="none" stroke="#328c06" stroke-opacity="0.3" stroke-width="4.72" stroke-linecap="round" stroke-linejoin="round"/>
<path d="M154.9,1527 L169.22,1525.01 L183.54,1523.01 L197.86,1521.02 L212.17,1519.02 L226.49,1517.03 L240.81,1515.04 L255.13,1513.04 L269.45,1511.05 L283.77,1509.06 L298.09,1507.06 L312.4,1505.07 L326.72,1503.08 L341.04,1501.09 L355.36,1499.09 L369.68,1497.1 L384,1495.11 L398.31,1493.12 L412.63,1491.13 L426.95,1489.15 L441.27,1487.16 L455.59,1485.17 L469.91,1483.18 L484.23,1481.2 L498.54,1479.21 L512.86,1477.23 L527.18,1475.24 L541.5,1473.26 L555.82,1471.28 L570.14,1469.3 L584.46,1467.32 L598.77,1465.34 L613.09,1463.36 L627.41,1461.38 L641.73,1459.4 L656.05,1457.43 L670.37,1455.45 L684.68,1453.48 L699,1451.51 L713.32,1449.54 L727.64,1447.57 L741.96,1445.6 L756.28,1443.63 L770.6,1441.67 L784.91,1439.7 L799.23,1437.74 L813.55,1435.78 L827.87,1433.82 L842.19,1431.86 L856.51,1429.9 L870.82,1427.95 L885.14,1425.99 L899.46,1424.04 L913.78,1422.09 L928.1,1420.14 L942.42,1418.19 L956.74,1416.25 L971.05,1414.3 L985.37,1412.36 L999.69,1410.42 L1014.01,1408.48" fill="none" stroke="#328c06" stroke-opacity="0.3" stroke-width="4.72" stroke-linecap="round" stroke-linejoin="round"/>
<path d="M154.9,1527 L169.22,1525.01 L183.54,1523.01 L197.86,1521.02 L212.17,1519.02 L226.49,1517.03 L240.81,1515.04 L255.13,1513.05 L269.45,1511.06 L283.77,1509.08 L298.09,1507.09 L312.4,1505.11 L326.72,1503.13 L341.04,1501.16 L355.36,1499.19 L369.68,1497.22 L384,1495.26 L398.31,1493.3 L412.63,1491.34 L426.95,1489.39 L441.27,1487.44 L455.59,1485.5 L469.91,1483.57 L484.23,1481.64 L498.54,1479.71 L512.86,1477.79 L527.18,1475.88 L541.5,1473.97 L555.82,1472.07 L570.14,1470.18 L584.46,1468.3 L598.77,1466.42 L613.09,1464.55 L627.41,1462.68 L641.73,1460.83 L656.05,1458.98 L670.37,1457.14 L684.68,1455.31 L699,1453.49 L713.32,1451.67 L727.64,1449.87 L741.96,1448.07 L756.28,1446.29 L770.6,1444.51 L784.91,1442.74 L799.23,1440.98 L813.55,1439.24 L827.87,1437.5 L842.19,1435.77 L856.51,1434.05 L870.82,1432.35 L885.14,1430.65 L899.46,1428.97 L913.78,1427.29 L928.1,1425.63 L942.42,1423.97 L956.74,1422.33 L971.05,1420.7 L985.37,1419.08 L999.69,1417.47 L1014.01,1415.88" fill="none" stroke="#328c06" stroke-opacity="0.3" stroke-width="4.72" stroke-linecap="round" stroke-linejoin="round"/>
<path d="M154.9,1527 L169.22,1525.54 L183.54,1524.07 L197.86,1522.61 L212.17,1521.15 L226.49,1519.68 L240.81,1518.22 L255.13,1516.76 L269.45,1515.29 L283.77,1513.83 L298.09,1512.37 L312.4,1510.91 L326.72,1509.44 L341.04,1507.98 L355.36,1506.52 L369.68,1505.06 L384,1503.6 L398.31,1502.14 L412.63,1500.68 L426.95,1499.22 L441.27,1497.76 L455.59,1496.3 L469.91,1494.84 L484.23,1493.38 L498.54,1491.92 L512.86,1490.47 L527.18,1489.01 L541.5,1487.55 L555.82,1486.1 L570.14,1484.64 L584.46,1483.19 L598.77,1481.74 L613.09,1480.28 L627.41,1478.83 L641.73,1477.38 L656.05,1475.93 L670.37,1474.48 L684.68,1473.03 L699,1471.58 L713.32,1470.13 L727.64,1468.69 L741.96,1467.24 L756.28,1465.8 L770.6,1464.35 L784.91,1462.91 L799.23,1461.47 L813.55,1460.02 L827.87,1458.58 L842.19,1457.14 L856.51,1455.71 L870.82,1454.27 L885.14,1452.83 L899.46,1451.4 L913.78,1449.96 L928.1,1448.53 L942.42,1447.1 L956.74,1445.67 L971.05,1444.24 L985.37,1442.81 L999.69,1441.38 L1014.01,1439.95" fill="none" stroke="#328c06" stroke-opacity="0.3" stroke-width="4.72" stroke-linecap="round" stroke-linejoin="round"/>
<text x="584.5" y="859.7" text-anchor="middle" style="font-size:44.44px">geo=geo_b, channel=x1</text>
<text x="102.2" y="1542" text-anchor="end" style="font-size:38.89px">0.0</text>
<text x="102.2" y="1391.25" text-anchor="end" style="font-size:38.89px">0.1</text>
<text x="102.2" y="1240.5" text-anchor="end" style="font-size:38.89px">0.2</text>
<text x="102.2" y="1089.75" text-anchor="end" style="font-size:38.89px">0.3</text>
<text x="102.2" y="939" text-anchor="end" style="font-size:38.89px">0.4</text>
<text x="154.9" y="1598.0" text-anchor="middle" style="font-size:38.89px">0.0</text>
<text x="298.09" y="1598.0" text-anchor="middle" style="font-size:38.89px">0.5</text>
<text x="441.27" y="1598.0" text-anchor="middle" style="font-size:38.89px">1.0</text>
<text x="584.46" y="1598.0" text-anchor="middle" style="font-size:38.89px">1.5</text>
<text x="727.64" y="1598.0" text-anchor="middle" style="font-size:38.89px">2.0</text>
<text x="870.82" y="1598.0" text-anchor="middle" style="font-size:38.89px">2.5</text>
<text x="1014.01" y="1598.0" text-anchor="middle" style="font-size:38.89px">3.0</text>
<text x="584.5" y="1650.8" text-anchor="middle" style="font-size:41.67px">x</text>
</g>
<g>
<rect x="1077" y="876" width="946" height="682" fill="#eeeeee"/>
<rect x="1119" y="876" width="2" height="682" fill="#fff"/>
<rect x="1262" y="876" width="2" height="682" fill="#fff"/>
<rect x="1406" y="876" width="2" height="682" fill="#fff"/>
<rect x="1549" y="876" width="2" height="682" fill="#fff"/>
<rect x="1692" y="876" width="2" height="682" fill="#fff"/>
<rect x="1836" y="876" width="2" height="682" fill="#fff"/>
<rect x="1979" y="876" width="2" height="682" fill="#fff"/>
<rect x="1077" y="1526" width="946" height="2" fill="#fff"/>
<rect x="1077" y="1375" width="946" height="2" fill="#fff"/>
<rect x="1077" y="1225" width="946" height="2" fill="#fff"/>
<rect x="1077" y="1074" width="946" height="2" fill="#fff"/>
<rect x="1077" y="923" width="946" height="2" fill="#fff"/>
<path d="M1119.95,1527 L1123.05,1524.8 L1126.16,1522.61 L1129.26,1520.43 L1132.37,1518.26 L1135.47,1516.1 L1138.57,1513.95 L1141.68,1511.81 L1144.78,1509.68 L1147.89,1507.56 L1150.99,1505.45 L1154.1,1503.35 L1157.2,1501.26 L1160.3,1499.18 L1163.41,1497.11 L1166.51,1495.04 L1169.62,1492.99 L1172.72,1490.94 L1175.82,1488.9 L1178.93,1486.87 L1182.03,1484.85 L1185.14,1482.84 L1188.24,1480.83 L1191.35,1478.84 L1194.37,1476.63 L1197.4,1474.43 L1200.42,1472.23 L1203.45,1470.05 L1206.48,1467.87 L1209.5,1465.69 L1212.53,1463.52 L1215.56,1461.36 L1218.58,1459.21 L1221.61,1457.06 L1224.64,1454.92 L1227.66,1452.78 L1230.69,1450.65 L1233.72,1448.53 L1236.74,1446.41 L1239.77,1444.29 L1242.8,1442.19 L1245.82,1440.08 L1248.85,1437.99 L1251.88,1435.89 L1254.9,1433.81 L1257.93,1431.73 L1260.96,1429.65 L1263.98,1427.58 L1266.98,1425.61 L1269.99,1423.65 L1272.99,1421.7 L1275.99,1419.75 L1278.99,1417.8 L1281.99,1415.86 L1284.99,1413.92 L1287.99,1411.99 L1291,1410.06 L1294,1408.13 L1297,1406.21 L1300,1404.29 L1303.28,1401.99 L1306.55,1399.68 L1309.83,1397.38 L1313.1,1395.09 L1316.38,1392.8 L1319.66,1390.51 L1322.93,1388.23 L1326.21,1385.95 L1329.49,1383.84 L1332.76,1381.73 L1336.04,1379.63 L1339.31,1377.53 L1342.59,1375.44 L1345.87,1373.34 L1349.14,1371.26 L1352.42,1369.17 L1355.7,1367.33 L1358.97,1365.48 L1362.25,1363.64 L1365.52,1361.81 L1368.8,1359.97 L1372.08,1358.14 L1375.35,1356.32 L1378.63,1354.5 L1381.91,1352.39 L1385.18,1350.28 L1388.46,1348.18 L1391.73,1346.08 L1395.01,1343.99 L1398.29,1341.9 L1401.56,1339.81 L1404.84,1337.72 L1408.11,1336.24 L1411.39,1334.75 L1414.67,1333.28 L1417.94,1331.8 L1421.22,1330.33 L1424.5,1328.86 L1427.77,1327.39 L1431.05,1325.93 L1434.23,1324.35 L1437.41,1322.77 L1440.6,1321.19 L1443.78,1319.62 L1446.96,1318.05 L1450.14,1316.48 L1453.33,1314.92 L1454.64,1313.87 L1457.84,1312.14 L1461.04,1310.41 L1464.25,1308.69 L1467.45,1306.97 L1470.65,1305.25 L1473.86,1303.54 L1477.06,1301.82 L1480.26,1300.11 L1483.47,1298.41 L1486.88,1296.38 L1490.28,1294.36 L1493.69,1292.34 L1497.1,1290.33 L1500.5,1288.32 L1501.81,1285.7 L1505.31,1283.66 L1508.8,1281.62 L1512.3,1279.59 L1515.79,1277.56 L1519.29,1275.53 L1522.78,1273.51 L1526.06,1271.71 L1529.33,1269.91 L1532.61,1268.12 L1535.89,1266.33 L1539.16,1264.54 L1542.44,1262.76 L1545,1258.48 L1548.12,1256.63 L1551.23,1254.78 L1554.35,1252.94 L1557.46,1251.1 L1560.58,1249.26 L1563.7,1247.42 L1566.81,1245.59 L1569.93,1243.76 L1573.05,1241.94 L1576.16,1240.12 L1579.28,1238.3 L1582.39,1236.48 L1585.51,1234.67 L1588.63,1232.86 L1591.74,1231.06 L1594.86,1229.26 L1597.97,1227.46 L1601.09,1225.67 L1604.21,1223.88 L1607.32,1222.09 L1610.44,1220.31 L1613.71,1218.76 L1616.98,1217.22 L1620.25,1215.68 L1623.53,1214.15 L1626.8,1212.62 L1630.07,1211.1 L1633.34,1209.58 L1636.61,1208.06 L1639.89,1206.55 L1643.16,1205.04 L1646.43,1203.21 L1649.7,1201.39 L1652.97,1199.57 L1656.25,1197.75 L1659.52,1195.94 L1662.79,1194.13 L1666.06,1191.95 L1669.33,1194.13 L1672.82,1192.38 L1676.31,1190.63 L1679.8,1188.88 L1683.29,1187.14 L1686.78,1185.41 L1688.97,1182.14 L1693.33,1181.05 L1696.44,1179.69 L1699.56,1178.34 L1702.68,1176.99 L1705.79,1175.64 L1708.91,1174.31 L1712.02,1172.97 L1715.14,1171.65 L1718.26,1170.33 L1721.37,1169.01 L1724.49,1167.7 L1727.61,1166.39 L1730.72,1165.09 L1733.84,1163.8 L1736.95,1162.51 L1740.23,1161.42 L1750.04,1155.96 L1753.31,1150.51 L1763.13,1146.15 L1766.56,1144.72 L1769.98,1143.3 L1773.41,1141.9 L1776.84,1140.49 L1780.27,1139.1 L1783.7,1137.71 L1787.12,1136.33 L1789.3,1147.24 L1799.12,1142.87 L1800.21,1130.88 L1802.39,1136.33 L1810.03,1134.15 L1813.3,1137.42 L1815.48,1122.15 L1819.84,1118.88 L1822.9,1117.43 L1825.95,1115.99 L1829,1114.56 L1832.06,1113.13 L1835.11,1111.71 L1838.17,1110.29 L1841.22,1108.89 L1844.27,1107.48 L1847.33,1106.09 L1850.38,1104.7 L1853.43,1103.58 L1856.49,1102.46 L1859.54,1101.36 L1862.6,1100.26 L1865.65,1099.16 L1868.7,1098.07 L1871.76,1096.99 L1874.81,1095.92 L1877.86,1094.85 L1880.92,1093.8 L1883.1,1097.72 L1886.15,1096.53 L1889.21,1095.35 L1892.26,1094.18 L1895.32,1093.01 L1898.37,1091.85 L1901.42,1090.7 L1904.48,1089.55 L1907.53,1088.41 L1910.58,1087.28 L1913.64,1086.16 L1915.82,1088.34 L1918.94,1087.54 L1922.05,1086.75 L1925.17,1085.96 L1928.28,1085.18 L1931.4,1084.41 L1934.52,1083.64 L1937.63,1082.89 L1940.75,1081.62 L1943.86,1080.36 L1946.98,1079.1 L1950.1,1077.86 L1953.21,1076.62 L1956.33,1075.39 L1959.44,1074.16 L1970.35,1070.24 L1979.99,1068.71 L1979.99,1496.72 L1970.35,1496.29 L1967.32,1496.4 L1964.29,1496.51 L1961.26,1496.62 L1958.23,1496.73 L1955.2,1496.83 L1952.17,1496.94 L1949.14,1497.04 L1946.11,1497.14 L1943.09,1497.23 L1940.06,1497.33 L1937.03,1497.42 L1934,1497.51 L1930.97,1497.61 L1927.94,1497.69 L1924.91,1497.78 L1921.88,1497.87 L1918.85,1497.95 L1915.82,1498.03 L1913.64,1495.2 L1910.37,1495.2 L1907.09,1495.21 L1903.82,1495.21 L1900.55,1495.21 L1897.28,1495.21 L1894.01,1495.21 L1890.73,1495.21 L1887.46,1495.2 L1884.19,1495.2 L1880.92,1491.92 L1877.8,1492.04 L1874.69,1492.15 L1871.57,1492.25 L1868.45,1492.36 L1865.34,1492.47 L1862.22,1492.58 L1859.11,1492.68 L1855.99,1492.79 L1852.87,1492.89 L1849.76,1493 L1846.64,1493.1 L1843.53,1493.2 L1840.41,1493.3 L1837.29,1493.41 L1834.18,1493.51 L1831.06,1493.61 L1827.94,1493.71 L1824.83,1493.81 L1821.71,1493.91 L1818.6,1494.01 L1815.48,1494.11 L1812.21,1510.47 L1810.03,1505.01 L1803.48,1505.01 L1801.3,1498.47 L1799.12,1510.47 L1789.3,1510.47 L1787.12,1499.56 L1783.85,1499.67 L1780.58,1499.78 L1777.31,1499.88 L1774.04,1499.99 L1770.76,1500.1 L1767.49,1500.21 L1764.22,1500.32 L1760.95,1500.43 L1757.68,1500.54 L1754.4,1500.65 L1751.13,1503.92 L1739.13,1506.1 L1736.95,1504.58 L1733.83,1504.63 L1730.7,1504.68 L1727.57,1504.74 L1724.45,1504.8 L1721.32,1504.85 L1718.19,1504.91 L1715.07,1504.97 L1711.94,1505.02 L1708.81,1505.08 L1705.69,1505.14 L1702.56,1505.2 L1699.44,1505.26 L1696.31,1505.32 L1693.18,1505.39 L1690.06,1505.45 L1687.87,1502.83 L1684.78,1502.83 L1681.69,1502.83 L1678.6,1502.83 L1675.51,1502.83 L1672.42,1502.83 L1669.33,1502.83 L1664.97,1505.01 L1660.61,1503.92 L1654.06,1507.19 L1650.95,1507.34 L1647.83,1507.5 L1644.72,1507.65 L1641.6,1507.8 L1638.48,1507.95 L1635.37,1508.11 L1632.25,1508.26 L1629.14,1508.42 L1626.02,1508.58 L1622.9,1508.73 L1619.79,1508.89 L1616.67,1509.05 L1613.55,1509.21 L1610.44,1509.37 L1607.32,1509.53 L1604.21,1509.68 L1601.09,1509.84 L1597.97,1509.99 L1594.86,1510.15 L1591.74,1510.31 L1588.63,1510.47 L1585.45,1510.56 L1582.28,1510.66 L1579.11,1510.75 L1575.93,1510.85 L1572.76,1510.95 L1569.59,1511.05 L1566.42,1511.15 L1563.24,1511.25 L1560.07,1511.35 L1556.9,1511.45 L1553.73,1511.56 L1545,1510.47 L1540.35,1512.65 L1537.24,1512.8 L1534.12,1512.95 L1531,1513.11 L1527.89,1513.27 L1524.77,1513.42 L1521.65,1513.58 L1518.54,1513.74 L1515.48,1513.52 L1512.43,1513.3 L1509.38,1513.08 L1506.32,1512.86 L1503.27,1512.65 L1501.09,1515.92 L1498.03,1516.13 L1494.98,1516.35 L1491.93,1516.57 L1488.87,1516.78 L1485.82,1517 L1482.77,1517.22 L1479.71,1517.44 L1476.66,1517.66 L1473.6,1517.87 L1470.55,1518.09 L1467.5,1518.31 L1464.44,1518.53 L1461.39,1518.75 L1458.33,1518.97 L1455.28,1519.19 L1452.17,1519.19 L1449.05,1519.19 L1445.93,1519.19 L1442.82,1519.19 L1439.7,1519.19 L1436.58,1519.19 L1433.47,1519.19 L1430.3,1519.29 L1427.12,1519.39 L1423.95,1519.49 L1420.78,1519.59 L1417.6,1519.69 L1414.43,1519.79 L1411.26,1519.89 L1408.09,1519.99 L1404.91,1520.09 L1401.74,1520.18 L1398.57,1520.28 L1395.54,1520.4 L1392.52,1520.52 L1389.49,1520.64 L1386.46,1520.75 L1383.44,1520.87 L1380.41,1520.98 L1377.39,1521.1 L1374.36,1521.21 L1371.34,1521.33 L1368.31,1521.44 L1365.29,1521.55 L1362.26,1521.66 L1359.23,1521.77 L1356.21,1521.88 L1353.18,1521.99 L1350.16,1522.1 L1347.13,1522.21 L1344.11,1522.31 L1341.08,1522.41 L1338.05,1522.52 L1335.03,1522.62 L1332,1522.72 L1328.98,1522.82 L1325.95,1522.91 L1322.93,1523.01 L1319.9,1523.11 L1316.87,1523.2 L1313.85,1523.29 L1310.82,1523.38 L1307.8,1523.47 L1304.77,1523.55 L1301.72,1523.66 L1298.66,1523.77 L1295.61,1523.87 L1292.56,1523.97 L1289.5,1524.07 L1286.45,1524.17 L1283.4,1524.27 L1280.34,1524.36 L1277.29,1524.45 L1274.23,1524.54 L1271.18,1524.63 L1268.13,1524.71 L1265.07,1524.79 L1262.02,1524.87 L1258.97,1524.95 L1255.91,1525.02 L1252.86,1525.09 L1249.8,1525.16 L1246.75,1525.23 L1243.7,1525.29 L1240.64,1525.35 L1237.59,1525.4 L1234.53,1525.46 L1231.48,1525.51 L1228.43,1525.55 L1225.37,1525.6 L1222.32,1525.64 L1219.27,1525.67 L1216.21,1525.71 L1213.16,1525.73 L1210.15,1525.84 L1207.14,1525.94 L1204.14,1526.04 L1201.13,1526.13 L1198.12,1526.23 L1195.12,1526.31 L1192.11,1526.39 L1189.1,1526.47 L1186.1,1526.55 L1183.09,1526.62 L1180.08,1526.68 L1177.08,1526.75 L1174.07,1526.8 L1171.06,1526.86 L1168.06,1526.91 L1165.05,1526.95 L1162.04,1526.99 L1159.04,1527.02 L1156.03,1527.05 L1153.02,1527.08 L1150.02,1527.1 L1147.01,1527.11 L1144,1527.12 L1141,1527.12 L1137.99,1527.12 L1134.98,1527.12 L1131.98,1527.1 L1128.97,1527.09 L1125.96,1527.06 L1122.96,1527.03 L1119.95,1527Z" fill="#c10c90" fill-opacity="0.25" stroke="#c10c90" stroke-opacity="0.25" stroke-width="2.78" stroke-linejoin="round"/>
<path d="M1119.95,1527 L1134.28,1517.89 L1148.62,1508.79 L1162.95,1499.69 L1177.29,1490.59 L1191.62,1481.49 L1205.95,1472.4 L1220.29,1463.32 L1234.62,1454.24 L1248.96,1445.17 L1263.29,1436.11 L1277.62,1427.06 L1291.96,1418.03 L1306.29,1409 L1320.63,1399.99 L1334.96,1391 L1349.29,1382.02 L1363.63,1373.06 L1377.96,1364.11 L1392.3,1355.18 L1406.63,1346.28 L1420.96,1337.39 L1435.3,1328.52 L1449.63,1319.68 L1463.97,1310.86 L1478.3,1302.07 L1492.63,1293.3 L1506.97,1284.56 L1521.3,1275.84 L1535.64,1267.15 L1549.97,1258.49 L1564.3,1249.87 L1578.64,1241.27 L1592.97,1232.7 L1607.31,1224.16 L1621.64,1215.66 L1635.97,1207.2 L1650.31,1198.76 L1664.64,1190.36 L1678.98,1182 L1693.31,1173.68 L1707.64,1165.39 L1721.98,1157.14 L1736.31,1148.93 L1750.65,1140.76 L1764.98,1132.63 L1779.31,1124.54 L1793.65,1116.5 L1807.98,1108.49 L1822.32,1100.53 L1836.65,1092.61 L1850.98,1084.74 L1865.32,1076.91 L1879.65,1069.12 L1893.99,1061.38 L1908.32,1053.69 L1922.65,1046.04 L1936.99,1038.44 L1951.32,1030.89 L1965.66,1023.39 L1979.99,1015.93" fill="none" stroke="#c10c90" stroke-opacity="0.3" stroke-width="4.72" stroke-linecap="round" stroke-linejoin="round"/>
<path d="M1119.95,1527 L1134.28,1517.91 L1148.62,1508.83 L1162.95,1499.75 L1177.29,1490.68 L1191.62,1481.62 L1205.95,1472.59 L1220.29,1463.57 L1234.62,1454.58 L1248.96,1445.62 L1263.29,1436.68 L1277.62,1427.78 L1291.96,1418.92 L1306.29,1410.1 L1320.63,1401.32 L1334.96,1392.58 L1349.29,1383.9 L1363.63,1375.27 L1377.96,1366.7 L1392.3,1358.18 L1406.63,1349.72 L1420.96,1341.33 L1435.3,1333 L1449.63,1324.74 L1463.97,1316.55 L1478.3,1308.43 L1492.63,1300.38 L1506.97,1292.42 L1521.3,1284.53 L1535.64,1276.72 L1549.97,1268.99 L1564.3,1261.35 L1578.64,1253.79 L1592.97,1246.32 L1607.31,1238.94 L1621.64,1231.64 L1635.97,1224.44 L1650.31,1217.33 L1664.64,1210.31 L1678.98,1203.38 L1693.31,1196.55 L1707.64,1189.81 L1721.98,1183.17 L1736.31,1176.62 L1750.65,1170.17 L1764.98,1163.82 L1779.31,1157.56 L1793.65,1151.4 L1807.98,1145.34 L1822.32,1139.37 L1836.65,1133.5 L1850.98,1127.72 L1865.32,1122.05 L1879.65,1116.47 L1893.99,1110.98 L1908.32,1105.59 L1922.65,1100.3 L1936.99,1095.1 L1951.32,1089.99 L1965.66,1084.98 L1979.99,1080.06" fill="none" stroke="#c10c90" stroke-opacity="0.3" stroke-width="4.72" stroke-linecap="round" stroke-linejoin="round"/>
<path d="M1119.95,1527 L1134.28,1517.07 L1148.62,1507.15 L1162.95,1497.24 L1177.29,1487.35 L1191.62,1477.49 L1205.95,1467.66 L1220.29,1457.87 L1234.62,1448.13 L1248.96,1438.44 L1263.29,1428.81 L1277.62,1419.24 L1291.96,1409.74 L1306.29,1400.32 L1320.63,1390.98 L1334.96,1381.73 L1349.29,1372.57 L1363.63,1363.5 L1377.96,1354.53 L1392.3,1345.67 L1406.63,1336.92 L1420.96,1328.28 L1435.3,1319.76 L1449.63,1311.36 L1463.97,1303.08 L1478.3,1294.93 L1492.63,1286.9 L1506.97,1279.01 L1521.3,1271.25 L1535.64,1263.62 L1549.97,1256.13 L1564.3,1248.77 L1578.64,1241.56 L1592.97,1234.48 L1607.31,1227.55 L1621.64,1220.75 L1635.97,1214.1 L1650.31,1207.58 L1664.64,1201.21 L1678.98,1194.97 L1693.31,1188.88 L1707.64,1182.93 L1721.98,1177.11 L1736.31,1171.43 L1750.65,1165.89 L1764.98,1160.48 L1779.31,1155.21 L1793.65,1150.07 L1807.98,1145.06 L1822.32,1140.18 L1836.65,1135.42 L1850.98,1130.8 L1865.32,1126.29 L1879.65,1121.91 L1893.99,1117.64 L1908.32,1113.5 L1922.65,1109.47 L1936.99,1105.55 L1951.32,1101.75 L1965.66,1098.05 L1979.99,1094.46" fill="none" stroke="#c10c90" stroke-opacity="0.3" stroke-width="4.72" stroke-linecap="round" stroke-linejoin="round"/>
<path d="M1119.95,1527 L1134.28,1518.03 L1148.62,1509.07 L1162.95,1500.12 L1177.29,1491.19 L1191.62,1482.28 L1205.95,1473.39 L1220.29,1464.54 L1234.62,1455.73 L1248.96,1446.96 L1263.29,1438.24 L1277.62,1429.57 L1291.96,1420.97 L1306.29,1412.42 L1320.63,1403.94 L1334.96,1395.53 L1349.29,1387.2 L1363.63,1378.95 L1377.96,1370.79 L1392.3,1362.71 L1406.63,1354.72 L1420.96,1346.83 L1435.3,1339.03 L1449.63,1331.34 L1463.97,1323.75 L1478.3,1316.26 L1492.63,1308.89 L1506.97,1301.62 L1521.3,1294.47 L1535.64,1287.43 L1549.97,1280.51 L1564.3,1273.7 L1578.64,1267.01 L1592.97,1260.44 L1607.31,1253.99 L1621.64,1247.67 L1635.97,1241.46 L1650.31,1235.37 L1664.64,1229.41 L1678.98,1223.57 L1693.31,1217.85 L1707.64,1212.25 L1721.98,1206.77 L1736.31,1201.41 L1750.65,1196.17 L1764.98,1191.05 L1779.31,1186.04 L1793.65,1181.16 L1807.98,1176.38 L1822.32,1171.73 L1836.65,1167.18 L1850.98,1162.75 L1865.32,1158.43 L1879.65,1154.22 L1893.99,1150.11 L1908.32,1146.11 L1922.65,1142.22 L1936.99,1138.42 L1951.32,1134.73 L1965.66,1131.13 L1979.99,1127.64" fill="none" stroke="#c10c90" stroke-opacity="0.3" stroke-width="4.72" stroke-linecap="round" stroke-linejoin="round"/>
<path d="M1119.95,1527 L1134.28,1518.96 L1148.62,1510.92 L1162.95,1502.9 L1177.29,1494.89 L1191.62,1486.9 L1205.95,1478.93 L1220.29,1471 L1234.62,1463.1 L1248.96,1455.24 L1263.29,1447.43 L1277.62,1439.67 L1291.96,1431.95 L1306.29,1424.3 L1320.63,1416.71 L1334.96,1409.19 L1349.29,1401.74 L1363.63,1394.36 L1377.96,1387.06 L1392.3,1379.84 L1406.63,1372.7 L1420.96,1365.65 L1435.3,1358.69 L1449.63,1351.83 L1463.97,1345.06 L1478.3,1338.38 L1492.63,1331.81 L1506.97,1325.34 L1521.3,1318.97 L1535.64,1312.7 L1549.97,1306.55 L1564.3,1300.5 L1578.64,1294.55 L1592.97,1288.72 L1607.31,1283 L1621.64,1277.38 L1635.97,1271.88 L1650.31,1266.49 L1664.64,1261.21 L1678.98,1256.04 L1693.31,1250.98 L1707.64,1246.03 L1721.98,1241.19 L1736.31,1236.45 L1750.65,1231.83 L1764.98,1227.32 L1779.31,1222.91 L1793.65,1218.6 L1807.98,1214.41 L1822.32,1210.31 L1836.65,1206.32 L1850.98,1202.42 L1865.32,1198.63 L1879.65,1194.94 L1893.99,1191.34 L1908.32,1187.83 L1922.65,1184.42 L1936.99,1181.11 L1951.32,1177.88 L1965.66,1174.74 L1979.99,1171.69" fill="none" stroke="#c10c90" stroke-opacity="0.3" stroke-width="4.72" stroke-linecap="round" stroke-linejoin="round"/>
<path d="M1119.95,1527 L1134.28,1520.74 L1148.62,1514.49 L1162.95,1508.24 L1177.29,1502.01 L1191.62,1495.78 L1205.95,1489.58 L1220.29,1483.4 L1234.62,1477.25 L1248.96,1471.12 L1263.29,1465.02 L1277.62,1458.97 L1291.96,1452.95 L1306.29,1446.97 L1320.63,1441.03 L1334.96,1435.15 L1349.29,1429.31 L1363.63,1423.53 L1377.96,1417.81 L1392.3,1412.14 L1406.63,1406.54 L1420.96,1401 L1435.3,1395.52 L1449.63,1390.11 L1463.97,1384.77 L1478.3,1379.5 L1492.63,1374.31 L1506.97,1369.19 L1521.3,1364.14 L1535.64,1359.17 L1549.97,1354.28 L1564.3,1349.47 L1578.64,1344.74 L1592.97,1340.09 L1607.31,1335.52 L1621.64,1331.03 L1635.97,1326.62 L1650.31,1322.3 L1664.64,1318.06 L1678.98,1313.9 L1693.31,1309.83 L1707.64,1305.84 L1721.98,1301.93 L1736.31,1298.1 L1750.65,1294.35 L1764.98,1290.69 L1779.31,1287.1 L1793.65,1283.6 L1807.98,1280.18 L1822.32,1276.83 L1836.65,1273.56 L1850.98,1270.37 L1865.32,1267.26 L1879.65,1264.22 L1893.99,1261.26 L1908.32,1258.37 L1922.65,1255.55 L1936.99,1252.8 L1951.32,1250.13 L1965.66,1247.52 L1979.99,1244.98" fill="none" stroke="#c10c90" stroke-opacity="0.3" stroke-width="4.72" stroke-linecap="round" stroke-linejoin="round"/>
<path d="M1119.95,1527 L1134.28,1522.37 L1148.62,1517.74 L1162.95,1513.12 L1177.29,1508.49 L1191.62,1503.87 L1205.95,1499.25 L1220.29,1494.63 L1234.62,1490.02 L1248.96,1485.41 L1263.29,1480.81 L1277.62,1476.21 L1291.96,1471.62 L1306.29,1467.04 L1320.63,1462.46 L1334.96,1457.9 L1349.29,1453.34 L1363.63,1448.79 L1377.96,1444.25 L1392.3,1439.72 L1406.63,1435.21 L1420.96,1430.7 L1435.3,1426.21 L1449.63,1421.73 L1463.97,1417.26 L1478.3,1412.8 L1492.63,1408.36 L1506.97,1403.94 L1521.3,1399.53 L1535.64,1395.13 L1549.97,1390.75 L1564.3,1386.39 L1578.64,1382.05 L1592.97,1377.72 L1607.31,1373.41 L1621.64,1369.12 L1635.97,1364.85 L1650.31,1360.59 L1664.64,1356.36 L1678.98,1352.15 L1693.31,1347.96 L1707.64,1343.78 L1721.98,1339.63 L1736.31,1335.51 L1750.65,1331.4 L1764.98,1327.31 L1779.31,1323.25 L1793.65,1319.21 L1807.98,1315.2 L1822.32,1311.21 L1836.65,1307.24 L1850.98,1303.3 L1865.32,1299.38 L1879.65,1295.48 L1893.99,1291.61 L1908.32,1287.77 L1922.65,1283.95 L1936.99,1280.16 L1951.32,1276.39 L1965.66,1272.65 L1979.99,1268.94" fill="none" stroke="#c10c90" stroke-opacity="0.3" stroke-width="4.72" stroke-linecap="round" stroke-linejoin="round"/>
<path d="M1119.95,1527 L1134.28,1523.32 L1148.62,1519.64 L1162.95,1515.96 L1177.29,1512.28 L1191.62,1508.61 L1205.95,1504.95 L1220.29,1501.29 L1234.62,1497.64 L1248.96,1493.99 L1263.29,1490.36 L1277.62,1486.74 L1291.96,1483.13 L1306.29,1479.53 L1320.63,1475.94 L1334.96,1472.37 L1349.29,1468.81 L1363.63,1465.27 L1377.96,1461.75 L1392.3,1458.25 L1406.63,1454.76 L1420.96,1451.29 L1435.3,1447.85 L1449.63,1444.43 L1463.97,1441.02 L1478.3,1437.65 L1492.63,1434.29 L1506.97,1430.96 L1521.3,1427.66 L1535.64,1424.38 L1549.97,1421.12 L1564.3,1417.9 L1578.64,1414.7 L1592.97,1411.53 L1607.31,1408.39 L1621.64,1405.28 L1635.97,1402.19 L1650.31,1399.14 L1664.64,1396.12 L1678.98,1393.13 L1693.31,1390.17 L1707.64,1387.24 L1721.98,1384.35 L1736.31,1381.49 L1750.65,1378.66 L1764.98,1375.86 L1779.31,1373.1 L1793.65,1370.37 L1807.98,1367.67 L1822.32,1365.01 L1836.65,1362.38 L1850.98,1359.78 L1865.32,1357.22 L1879.65,1354.69 L1893.99,1352.2 L1908.32,1349.74 L1922.65,1347.31 L1936.99,1344.92 L1951.32,1342.57 L1965.66,1340.24 L1979.99,1337.95" fill="none" stroke="#c10c90" stroke-opacity="0.3" stroke-width="4.72" stroke-linecap="round" stroke-linejoin="round"/>
<path d="M1119.95,1527 L1134.28,1525.52 L1148.62,1524.04 L1162.95,1522.56 L1177.29,1521.08 L1191.62,1519.6 L1205.95,1518.12 L1220.29,1516.64 L1234.62,1515.16 L1248.96,1513.68 L1263.29,1512.21 L1277.62,1510.73 L1291.96,1509.26 L1306.29,1507.79 L1320.63,1506.31 L1334.96,1504.84 L1349.29,1503.37 L1363.63,1501.91 L1377.96,1500.44 L1392.3,1498.98 L1406.63,1497.51 L1420.96,1496.05 L1435.3,1494.6 L1449.63,1493.14 L1463.97,1491.69 L1478.3,1490.23 L1492.63,1488.79 L1506.97,1487.34 L1521.3,1485.9 L1535.64,1484.45 L1549.97,1483.02 L1564.3,1481.58 L1578.64,1480.15 L1592.97,1478.72 L1607.31,1477.29 L1621.64,1475.87 L1635.97,1474.45 L1650.31,1473.03 L1664.64,1471.62 L1678.98,1470.21 L1693.31,1468.8 L1707.64,1467.4 L1721.98,1466 L1736.31,1464.61 L1750.65,1463.21 L1764.98,1461.83 L1779.31,1460.44 L1793.65,1459.07 L1807.98,1457.69 L1822.32,1456.32 L1836.65,1454.96 L1850.98,1453.59 L1865.32,1452.24 L1879.65,1450.88 L1893.99,1449.54 L1908.32,1448.19 L1922.65,1446.86 L1936.99,1445.52 L1951.32,1444.19 L1965.66,1442.87 L1979.99,1441.55" fill="none" stroke="#c10c90" stroke-opacity="0.3" stroke-width="4.72" stroke-linecap="round" stroke-linejoin="round"/>
<path d="M1119.95,1527 L1134.28,1525.71 L1148.62,1524.41 L1162.95,1523.12 L1177.29,1521.83 L1191.62,1520.54 L1205.95,1519.24 L1220.29,1517.95 L1234.62,1516.66 L1248.96,1515.37 L1263.29,1514.09 L1277.62,1512.8 L1291.96,1511.51 L1306.29,1510.23 L1320.63,1508.95 L1334.96,1507.67 L1349.29,1506.39 L1363.63,1505.11 L1377.96,1503.83 L1392.3,1502.56 L1406.63,1501.29 L1420.96,1500.02 L1435.3,1498.75 L1449.63,1497.49 L1463.97,1496.23 L1478.3,1494.97 L1492.63,1493.71 L1506.97,1492.46 L1521.3,1491.21 L1535.64,1489.96 L1549.97,1488.71 L1564.3,1487.47 L1578.64,1486.24 L1592.97,1485 L1607.31,1483.77 L1621.64,1482.55 L1635.97,1481.32 L1650.31,1480.1 L1664.64,1478.89 L1678.98,1477.68 L1693.31,1476.47 L1707.64,1475.27 L1721.98,1474.07 L1736.31,1472.88 L1750.65,1471.69 L1764.98,1470.5 L1779.31,1469.32 L1793.65,1468.15 L1807.98,1466.98 L1822.32,1465.81 L1836.65,1464.65 L1850.98,1463.49 L1865.32,1462.34 L1879.65,1461.2 L1893.99,1460.06 L1908.32,1458.92 L1922.65,1457.79 L1936.99,1456.67 L1951.32,1455.55 L1965.66,1454.43 L1979.99,1453.33" fill="none" stroke="#c10c90" stroke-opacity="0.3" stroke-width="4.72" stroke-linecap="round" stroke-linejoin="round"/>
<text x="1550" y="859.7" text-anchor="middle" style="font-size:44.44px">geo=geo_b, channel=x2</text>
<text x="1119.95" y="1598.0" text-anchor="middle" style="font-size:38.89px">0.0</text>
<text x="1263.29" y="1598.0" text-anchor="middle" style="font-size:38.89px">0.5</text>
<text x="1406.63" y="1598.0" text-anchor="middle" style="font-size:38.89px">1.0</text>
<text x="1549.97" y="1598.0" text-anchor="middle" style="font-size:38.89px">1.5</text>
<text x="1693.31" y="1598.0" text-anchor="middle" style="font-size:38.89px">2.0</text>
<text x="1836.65" y="1598.0" text-anchor="middle" style="font-size:38.89px">2.5</text>
<text x="1979.99" y="1598.0" text-anchor="middle" style="font-size:38.89px">3.0</text>
<text x="1550" y="1650.8" text-anchor="middle" style="font-size:41.67px">x</text>
</g>
</svg></body></html>
